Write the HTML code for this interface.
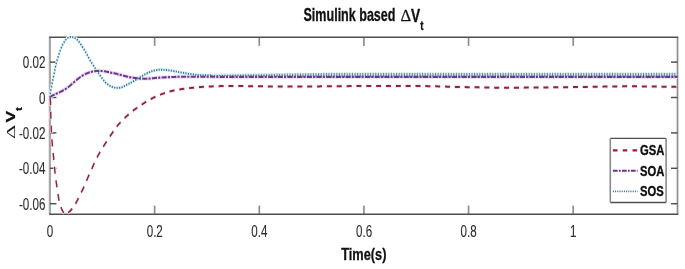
<!DOCTYPE html>
<html><head><meta charset="utf-8"><title>Simulink based ΔVt</title>
<style>
html,body{margin:0;padding:0;background:#fff;}
body{width:685px;height:269px;overflow:hidden;}
svg{display:block;filter:blur(0.35px);}
</style></head><body>
<svg width="685" height="269" viewBox="0 0 685 269">
<rect x="0" y="0" width="685" height="269" fill="#ffffff"/>
<g fill="none">
<line x1="49.9" y1="37.3" x2="49.9" y2="214.2" stroke="#a8a8a8" stroke-width="2.3"/>
<line x1="677.5" y1="37.3" x2="677.5" y2="214.2" stroke="#8e8e8e" stroke-width="1.7"/>
<line x1="154.64" y1="214.2" x2="154.64" y2="205.6" stroke="#8e8e8e" stroke-width="1.7"/>
<line x1="154.64" y1="37.3" x2="154.64" y2="45.9" stroke="#8e8e8e" stroke-width="1.7"/>
<line x1="259.28" y1="214.2" x2="259.28" y2="205.6" stroke="#8e8e8e" stroke-width="1.7"/>
<line x1="259.28" y1="37.3" x2="259.28" y2="45.9" stroke="#8e8e8e" stroke-width="1.7"/>
<line x1="363.92" y1="214.2" x2="363.92" y2="205.6" stroke="#8e8e8e" stroke-width="1.7"/>
<line x1="363.92" y1="37.3" x2="363.92" y2="45.9" stroke="#8e8e8e" stroke-width="1.7"/>
<line x1="468.56" y1="214.2" x2="468.56" y2="205.6" stroke="#8e8e8e" stroke-width="1.7"/>
<line x1="468.56" y1="37.3" x2="468.56" y2="45.9" stroke="#8e8e8e" stroke-width="1.7"/>
<line x1="573.20" y1="214.2" x2="573.20" y2="205.6" stroke="#8e8e8e" stroke-width="1.7"/>
<line x1="573.20" y1="37.3" x2="573.20" y2="45.9" stroke="#8e8e8e" stroke-width="1.7"/>
<line x1="49.1" y1="37.3" x2="678.3" y2="37.3" stroke="#4e4e4e" stroke-width="1.45"/>
<line x1="49.1" y1="214.2" x2="678.3" y2="214.2" stroke="#4e4e4e" stroke-width="1.45"/>
<line x1="49.9" y1="62.1" x2="56.4" y2="62.1" stroke="#4e4e4e" stroke-width="1.45"/>
<line x1="677.5" y1="62.1" x2="671.0" y2="62.1" stroke="#4e4e4e" stroke-width="1.45"/>
<line x1="49.9" y1="97.5" x2="56.4" y2="97.5" stroke="#4e4e4e" stroke-width="1.45"/>
<line x1="677.5" y1="97.5" x2="671.0" y2="97.5" stroke="#4e4e4e" stroke-width="1.45"/>
<line x1="49.9" y1="132.9" x2="56.4" y2="132.9" stroke="#4e4e4e" stroke-width="1.45"/>
<line x1="677.5" y1="132.9" x2="671.0" y2="132.9" stroke="#4e4e4e" stroke-width="1.45"/>
<line x1="49.9" y1="168.3" x2="56.4" y2="168.3" stroke="#4e4e4e" stroke-width="1.45"/>
<line x1="677.5" y1="168.3" x2="671.0" y2="168.3" stroke="#4e4e4e" stroke-width="1.45"/>
<line x1="49.9" y1="203.7" x2="56.4" y2="203.7" stroke="#4e4e4e" stroke-width="1.45"/>
<line x1="677.5" y1="203.7" x2="671.0" y2="203.7" stroke="#4e4e4e" stroke-width="1.45"/>
</g>
<defs><clipPath id="cp"><rect x="48.699999999999996" y="35.8" width="628.8000000000001" height="179.89999999999998"/></clipPath></defs>
<g clip-path="url(#cp)">
<g transform="translate(50.0,0) scale(0.712,1) translate(-50.0,0)" fill="none" stroke-linecap="butt" stroke-linejoin="round">
<path d="M50.00,97.50L50.13,98.16L50.25,98.82L50.37,99.49L50.47,100.15L50.55,100.81L50.59,101.47L50.64,102.14L50.68,102.80L50.71,103.47L50.74,104.13L50.77,104.80L50.80,105.47L50.83,106.13L50.85,106.80L50.87,107.47L50.89,108.13L50.91,108.80L50.93,109.47L50.95,110.13L50.97,110.80L50.99,111.47L51.01,112.14L51.03,112.80L51.05,113.47L51.07,114.14L51.10,114.80L51.13,115.47L51.16,116.14L51.18,116.80L51.21,117.47L51.24,118.13L51.27,118.80L51.30,119.47L51.33,120.13L51.36,120.80L51.39,121.47L51.42,122.13L51.45,122.80L51.48,123.46L51.52,124.13L51.55,124.80L51.59,125.46L51.62,126.13L51.66,126.79L51.69,127.46L51.73,128.13L51.77,128.79L51.81,129.46L51.85,130.12L51.90,130.79L51.94,131.46L51.99,132.12L52.04,132.79L52.08,133.45L52.14,134.12L52.19,134.78L52.24,135.45L52.30,136.12L52.36,136.78L52.42,137.45L52.49,138.11L52.56,138.78L52.63,139.44L52.70,140.10L52.78,140.77L52.85,141.43L52.93,142.10L53.01,142.76L53.09,143.43L53.17,144.09L53.25,144.75L53.34,145.42L53.42,146.08L53.50,146.75L53.59,147.41L53.68,148.07L53.77,148.74L53.86,149.40L53.96,150.06L54.06,150.73L54.16,151.39L54.25,152.05L54.35,152.71L54.45,153.38L54.55,154.04L54.65,154.70L54.74,155.37L54.84,156.03L54.93,156.69L55.02,157.36L55.10,158.02L55.19,158.68L55.27,159.35L55.36,160.01L55.44,160.68L55.52,161.34L55.61,162.00L55.69,162.67L55.77,163.33L55.86,164.00L55.94,164.66L56.03,165.32L56.11,165.99L56.20,166.65L56.29,167.31L56.39,167.98L56.48,168.64L56.58,169.30L56.67,169.97L56.77,170.63L56.87,171.29L56.97,171.96L57.07,172.62L57.17,173.28L57.27,173.94L57.38,174.61L57.49,175.27L57.60,175.93L57.71,176.59L57.82,177.25L57.94,177.91L58.06,178.58L58.19,179.24L58.32,179.90L58.45,180.56L58.59,181.22L58.72,181.88L58.86,182.54L58.99,183.20L59.12,183.85L59.26,184.51L59.39,185.17L59.53,185.83L59.66,186.49L59.80,187.15L59.94,187.81L60.07,188.47L60.21,189.13L60.35,189.79L60.49,190.45L60.62,191.11L60.75,191.77L60.88,192.43L61.00,193.09L61.13,193.75L61.26,194.42L61.40,195.08L61.54,195.73L61.68,196.39L61.84,197.05L62.00,197.70L62.17,198.36L62.36,199.01L62.55,199.66L62.75,200.32L62.96,200.97L63.18,201.62L63.41,202.27L63.65,202.91L63.90,203.56L64.16,204.20L64.42,204.84L64.70,205.47L64.98,206.10L65.27,206.74L65.58,207.38L65.90,208.03L66.23,208.67L66.59,209.30L66.97,209.91L67.38,210.51L67.81,211.08L68.28,211.62L68.82,212.20L69.44,212.83L70.12,213.42L70.84,213.89L71.57,214.17L72.29,214.17L73.07,213.96L73.87,213.60L74.68,213.15L75.48,212.66L76.24,212.18L76.95,211.76L77.65,211.32L78.33,210.86L79.00,210.39L79.66,209.90L80.30,209.40L80.92,208.90L81.52,208.38L82.10,207.86L82.65,207.33L83.19,206.80L83.70,206.25L84.20,205.69L84.68,205.12L85.16,204.54L85.62,203.95L86.07,203.36L86.52,202.77L86.96,202.18L87.40,201.59L87.85,201.00L88.29,200.41L88.72,199.82L89.15,199.23L89.58,198.63L89.99,198.04L90.41,197.44L90.82,196.84L91.23,196.24L91.64,195.64L92.05,195.04L92.46,194.44L92.88,193.84L93.29,193.25L93.71,192.65L94.12,192.05L94.54,191.45L94.95,190.86L95.36,190.26L95.77,189.66L96.18,189.06L96.58,188.46L96.98,187.85L97.38,187.25L97.76,186.64L98.15,186.04L98.53,185.43L98.90,184.82L99.27,184.20L99.64,183.59L100.01,182.98L100.37,182.36L100.73,181.75L101.10,181.13L101.46,180.52L101.82,179.90L102.18,179.29L102.54,178.67L102.91,178.06L103.27,177.45L103.64,176.83L104.02,176.22L104.39,175.61L104.77,175.00L105.16,174.40L105.55,173.79L105.95,173.19L106.35,172.58L106.75,171.98L107.15,171.38L107.55,170.77L107.94,170.17L108.33,169.56L108.70,168.95L109.08,168.34L109.44,167.73L109.81,167.11L110.17,166.50L110.53,165.88L110.90,165.27L111.27,164.66L111.64,164.05L112.03,163.44L112.41,162.83L112.80,162.23L113.20,161.62L113.59,161.02L113.99,160.41L114.40,159.81L114.81,159.21L115.22,158.61L115.64,158.02L116.07,157.43L116.50,156.84L116.95,156.25L117.40,155.67L117.85,155.08L118.31,154.50L118.77,153.92L119.24,153.34L119.71,152.77L120.18,152.19L120.65,151.61L121.12,151.04L121.61,150.47L122.09,149.90L122.58,149.33L123.06,148.76L123.55,148.19L124.05,147.62L124.54,147.06L125.03,146.49L125.52,145.92L126.01,145.35L126.50,144.79L127.00,144.22L127.49,143.65L127.99,143.09L128.48,142.52L128.98,141.96L129.48,141.40L129.99,140.83L130.50,140.28L131.01,139.72L131.53,139.16L132.05,138.61L132.58,138.06L133.10,137.51L133.63,136.96L134.16,136.41L134.70,135.86L135.23,135.31L135.76,134.76L136.29,134.21L136.82,133.66L137.35,133.11L137.88,132.56L138.40,132.01L138.92,131.45L139.44,130.89L139.96,130.34L140.48,129.79L141.02,129.24L141.56,128.69L142.11,128.16L142.67,127.63L143.24,127.10L143.82,126.58L144.41,126.06L145.01,125.55L145.61,125.04L146.22,124.53L146.84,124.03L147.46,123.53L148.09,123.03L148.72,122.54L149.35,122.05L149.99,121.56L150.63,121.07L151.27,120.59L151.92,120.11L152.58,119.64L153.24,119.17L153.91,118.70L154.59,118.24L155.27,117.78L155.95,117.32L156.63,116.86L157.32,116.41L158.00,115.96L158.69,115.50L159.38,115.05L160.07,114.60L160.77,114.15L161.47,113.71L162.17,113.27L162.88,112.83L163.59,112.40L164.31,111.97L165.04,111.55L165.77,111.14L166.51,110.74L167.27,110.34L168.03,109.95L168.79,109.57L169.56,109.18L170.33,108.80L171.09,108.42L171.86,108.03L172.63,107.65L173.40,107.27L174.17,106.90L174.94,106.52L175.71,106.14L176.49,105.77L177.26,105.40L178.04,105.02L178.82,104.65L179.60,104.28L180.38,103.91L181.16,103.54L181.94,103.17L182.72,102.81L183.51,102.45L184.30,102.09L185.10,101.75L185.90,101.40L186.70,101.06L187.51,100.72L188.32,100.39L189.14,100.05L189.95,99.73L190.77,99.40L191.59,99.08L192.42,98.77L193.25,98.46L194.08,98.15L194.92,97.86L195.76,97.57L196.60,97.28L197.44,96.99L198.29,96.71L199.14,96.43L200.00,96.16L200.86,95.88L201.72,95.61L202.58,95.35L203.44,95.09L204.31,94.84L205.18,94.59L206.05,94.34L206.93,94.10L207.80,93.87L208.68,93.65L209.56,93.43L210.44,93.21L211.33,93.00L212.22,92.79L213.11,92.58L214.00,92.38L214.90,92.18L215.80,91.98L216.70,91.79L217.60,91.60L218.50,91.42L219.41,91.25L220.32,91.08L221.22,90.92L222.13,90.77L223.04,90.62L223.95,90.48L224.87,90.35L225.78,90.22L226.70,90.09L227.62,89.97L228.55,89.85L229.47,89.74L230.39,89.63L231.32,89.52L232.25,89.41L233.17,89.31L234.10,89.21L235.03,89.11L235.95,89.02L236.88,88.92L237.81,88.83L238.73,88.73L239.66,88.64L240.59,88.55L241.52,88.47L242.45,88.38L243.38,88.30L244.30,88.22L245.23,88.14L246.17,88.06L247.10,87.98L248.03,87.91L248.96,87.84L249.89,87.77L250.82,87.70L251.75,87.64L252.68,87.57L253.61,87.51L254.55,87.44L255.48,87.38L256.41,87.32L257.34,87.26L258.28,87.21L259.21,87.15L260.14,87.10L261.08,87.05L262.01,87.00L262.94,86.95L263.88,86.91L264.81,86.87L265.75,86.82L266.68,86.78L267.62,86.75L268.55,86.71L269.49,86.67L270.42,86.64L271.36,86.60L272.29,86.57L273.23,86.54L274.16,86.51L275.10,86.48L276.03,86.45L276.97,86.42L277.90,86.40L278.84,86.37L279.77,86.35L280.71,86.32L281.65,86.29L282.58,86.27L283.52,86.24L284.45,86.22L285.39,86.19L286.32,86.17L287.26,86.15L288.20,86.14L289.13,86.12L290.07,86.11L291.00,86.10L291.94,86.10L292.88,86.10L293.81,86.10L294.75,86.10L295.68,86.10L296.62,86.10L297.56,86.10L298.49,86.10L299.43,86.10L300.37,86.10L301.30,86.10L302.24,86.10L303.17,86.10L304.11,86.10L305.05,86.10L305.98,86.10L306.92,86.10L307.86,86.10L308.79,86.10L309.73,86.10L310.66,86.10L311.60,86.10L312.54,86.10L313.47,86.10L314.41,86.10L315.35,86.10L316.28,86.10L317.22,86.10L318.15,86.10L319.09,86.10L320.03,86.10L320.96,86.11L321.90,86.11L322.83,86.11L323.77,86.12L324.71,86.12L325.64,86.13L326.58,86.13L327.52,86.14L328.45,86.14L329.39,86.15L330.32,86.16L331.26,86.17L332.20,86.17L333.13,86.18L334.07,86.19L335.00,86.20L335.94,86.21L336.88,86.22L337.81,86.23L338.75,86.24L339.69,86.25L340.62,86.26L341.56,86.27L342.49,86.28L343.43,86.29L344.37,86.30L345.30,86.31L346.24,86.32L347.17,86.33L348.11,86.35L349.05,86.36L349.98,86.37L350.92,86.38L351.86,86.39L352.79,86.40L353.73,86.41L354.66,86.42L355.60,86.43L356.54,86.44L357.47,86.45L358.41,86.46L359.34,86.47L360.28,86.48L361.22,86.49L362.15,86.50L363.09,86.51L364.02,86.52L364.96,86.53L365.90,86.54L366.83,86.54L367.77,86.55L368.71,86.56L369.64,86.56L370.58,86.57L371.51,86.58L372.45,86.58L373.39,86.58L374.32,86.59L375.26,86.59L376.19,86.59L377.13,86.60L378.07,86.60L379.00,86.60L379.94,86.60L380.88,86.60L381.81,86.60L382.75,86.60L383.68,86.60L384.62,86.60L385.56,86.60L386.49,86.59L387.43,86.59L388.36,86.59L389.30,86.59L390.24,86.59L391.17,86.58L392.11,86.58L393.05,86.58L393.98,86.58L394.92,86.57L395.85,86.57L396.79,86.57L397.73,86.56L398.66,86.56L399.60,86.55L400.54,86.55L401.47,86.55L402.41,86.54L403.34,86.54L404.28,86.53L405.22,86.53L406.15,86.52L407.09,86.52L408.02,86.51L408.96,86.51L409.90,86.50L410.83,86.50L411.77,86.49L412.71,86.48L413.64,86.48L414.58,86.47L415.51,86.47L416.45,86.46L417.39,86.46L418.32,86.45L419.26,86.44L420.19,86.44L421.13,86.43L422.07,86.42L423.00,86.42L423.94,86.41L424.88,86.40L425.81,86.40L426.75,86.39L427.68,86.38L428.62,86.38L429.56,86.37L430.49,86.36L431.43,86.36L432.37,86.35L433.30,86.34L434.24,86.34L435.17,86.33L436.11,86.32L437.05,86.32L437.98,86.31L438.92,86.30L439.85,86.30L440.79,86.29L441.73,86.28L442.66,86.28L443.60,86.27L444.54,86.26L445.47,86.26L446.41,86.25L447.34,86.25L448.28,86.24L449.22,86.23L450.15,86.23L451.09,86.22L452.03,86.22L452.96,86.21L453.90,86.20L454.83,86.20L455.77,86.19L456.71,86.19L457.64,86.18L458.58,86.18L459.51,86.17L460.45,86.17L461.39,86.16L462.32,86.16L463.26,86.15L464.20,86.15L465.13,86.14L466.07,86.14L467.00,86.14L467.94,86.13L468.88,86.13L469.81,86.12L470.75,86.12L471.69,86.12L472.62,86.11L473.56,86.11L474.49,86.11L475.43,86.11L476.37,86.10L477.30,86.10L478.24,86.10L479.17,86.10L480.11,86.10L481.05,86.09L481.98,86.09L482.92,86.09L483.86,86.09L484.79,86.09L485.73,86.09L486.66,86.08L487.60,86.08L488.54,86.08L489.47,86.08L490.41,86.08L491.35,86.08L492.28,86.07L493.22,86.07L494.15,86.07L495.09,86.07L496.03,86.07L496.96,86.07L497.90,86.06L498.84,86.06L499.77,86.06L500.71,86.06L501.64,86.06L502.58,86.06L503.52,86.06L504.45,86.05L505.39,86.05L506.33,86.05L507.26,86.05L508.20,86.05L509.13,86.05L510.07,86.04L511.01,86.04L511.94,86.04L512.88,86.04L513.82,86.04L514.75,86.04L515.69,86.04L516.62,86.04L517.56,86.03L518.50,86.03L519.43,86.03L520.37,86.03L521.31,86.03L522.24,86.03L523.18,86.03L524.11,86.03L525.05,86.02L525.99,86.02L526.92,86.02L527.86,86.02L528.79,86.02L529.73,86.02L530.67,86.02L531.60,86.02L532.54,86.02L533.48,86.02L534.41,86.01L535.35,86.01L536.28,86.01L537.22,86.01L538.16,86.01L539.09,86.01L540.03,86.01L540.97,86.01L541.90,86.01L542.84,86.01L543.77,86.01L544.71,86.01L545.65,86.01L546.58,86.00L547.52,86.00L548.45,86.00L549.39,86.00L550.33,86.00L551.26,86.00L552.20,86.00L553.14,86.00L554.07,86.00L555.01,86.00L555.94,86.00L556.88,86.00L557.82,86.00L558.75,86.00L559.69,86.00L560.62,86.00L561.56,86.00L562.50,86.00L563.43,86.00L564.37,86.00L565.31,86.00L566.24,86.01L567.18,86.01L568.11,86.01L569.05,86.02L569.99,86.02L570.92,86.03L571.86,86.04L572.79,86.05L573.73,86.06L574.67,86.06L575.60,86.07L576.54,86.08L577.47,86.10L578.41,86.11L579.35,86.12L580.28,86.13L581.22,86.14L582.15,86.16L583.09,86.17L584.03,86.19L584.96,86.20L585.90,86.22L586.83,86.23L587.77,86.25L588.71,86.27L589.64,86.28L590.58,86.30L591.51,86.32L592.45,86.33L593.38,86.35L594.32,86.37L595.26,86.39L596.19,86.41L597.13,86.43L598.06,86.45L599.00,86.46L599.94,86.48L600.87,86.50L601.81,86.52L602.74,86.54L603.68,86.56L604.62,86.58L605.55,86.60L606.49,86.62L607.42,86.64L608.36,86.66L609.30,86.68L610.23,86.70L611.17,86.72L612.10,86.74L613.04,86.76L613.98,86.78L614.91,86.80L615.85,86.81L616.78,86.83L617.72,86.85L618.66,86.87L619.59,86.89L620.53,86.90L621.46,86.92L622.40,86.94L623.34,86.95L624.27,86.97L625.21,86.99L626.14,87.00L627.08,87.02L628.02,87.03L628.95,87.05L629.89,87.06L630.82,87.07L631.76,87.09L632.70,87.10L633.63,87.11L634.57,87.12L635.50,87.13L636.44,87.15L637.38,87.16L638.31,87.17L639.25,87.18L640.18,87.20L641.12,87.21L642.06,87.22L642.99,87.24L643.93,87.25L644.86,87.26L645.80,87.28L646.74,87.29L647.67,87.30L648.61,87.32L649.54,87.33L650.48,87.34L651.42,87.36L652.35,87.37L653.29,87.38L654.22,87.40L655.16,87.41L656.10,87.42L657.03,87.44L657.97,87.45L658.91,87.46L659.84,87.47L660.78,87.49L661.71,87.50L662.65,87.51L663.59,87.52L664.52,87.53L665.46,87.54L666.39,87.55L667.33,87.57L668.27,87.58L669.20,87.59L670.14,87.60L671.07,87.60L672.01,87.61L672.95,87.62L673.88,87.63L674.82,87.64L675.76,87.65L676.69,87.65L677.63,87.66L678.56,87.67L679.50,87.67L680.44,87.68L681.37,87.68L682.31,87.69L683.24,87.69L684.18,87.69L685.12,87.69L686.05,87.70L686.99,87.70L687.92,87.70L688.86,87.70L689.80,87.70L690.73,87.70L691.67,87.70L692.61,87.70L693.54,87.70L694.48,87.70L695.41,87.70L696.35,87.69L697.29,87.69L698.22,87.69L699.16,87.69L700.10,87.69L701.03,87.68L701.97,87.68L702.90,87.68L703.84,87.68L704.78,87.67L705.71,87.67L706.65,87.67L707.58,87.66L708.52,87.66L709.46,87.66L710.39,87.65L711.33,87.65L712.27,87.64L713.20,87.64L714.14,87.63L715.07,87.63L716.01,87.63L716.95,87.62L717.88,87.62L718.82,87.61L719.76,87.61L720.69,87.60L721.63,87.60L722.56,87.59L723.50,87.58L724.44,87.58L725.37,87.57L726.31,87.57L727.24,87.56L728.18,87.56L729.12,87.55L730.05,87.55L730.99,87.54L731.93,87.53L732.86,87.53L733.80,87.52L734.73,87.52L735.67,87.51L736.61,87.50L737.54,87.50L738.48,87.49L739.42,87.48L740.35,87.48L741.29,87.47L742.22,87.47L743.16,87.46L744.10,87.45L745.03,87.45L745.97,87.44L746.90,87.43L747.84,87.43L748.78,87.42L749.71,87.42L750.65,87.41L751.59,87.40L752.52,87.40L753.46,87.39L754.39,87.39L755.33,87.38L756.27,87.37L757.20,87.37L758.14,87.36L759.07,87.35L760.01,87.34L760.95,87.34L761.88,87.33L762.82,87.32L763.76,87.31L764.69,87.31L765.63,87.30L766.56,87.29L767.50,87.28L768.44,87.27L769.37,87.26L770.31,87.26L771.24,87.25L772.18,87.24L773.12,87.23L774.05,87.22L774.99,87.21L775.92,87.20L776.86,87.19L777.80,87.18L778.73,87.17L779.67,87.16L780.61,87.15L781.54,87.14L782.48,87.13L783.41,87.12L784.35,87.11L785.29,87.10L786.22,87.09L787.16,87.08L788.09,87.07L789.03,87.06L789.97,87.05L790.90,87.04L791.84,87.03L792.77,87.02L793.71,87.01L794.65,87.00L795.58,86.99L796.52,86.98L797.46,86.96L798.39,86.95L799.33,86.94L800.26,86.93L801.20,86.92L802.14,86.91L803.07,86.90L804.01,86.89L804.94,86.88L805.88,86.87L806.82,86.86L807.75,86.84L808.69,86.83L809.62,86.82L810.56,86.81L811.50,86.80L812.43,86.79L813.37,86.78L814.30,86.77L815.24,86.76L816.18,86.75L817.11,86.74L818.05,86.73L818.99,86.72L819.92,86.70L820.86,86.69L821.79,86.68L822.73,86.67L823.67,86.66L824.60,86.65L825.54,86.64L826.47,86.63L827.41,86.62L828.35,86.61L829.28,86.60L830.22,86.59L831.15,86.58L832.09,86.57L833.03,86.56L833.96,86.55L834.90,86.53L835.83,86.52L836.77,86.51L837.71,86.49L838.64,86.48L839.58,86.47L840.52,86.45L841.45,86.44L842.39,86.43L843.32,86.42L844.26,86.40L845.20,86.39L846.13,86.38L847.07,86.37L848.00,86.36L848.94,86.35L849.88,86.34L850.81,86.33L851.75,86.32L852.68,86.32L853.62,86.31L854.56,86.31L855.49,86.30L856.43,86.30L857.37,86.30L858.30,86.30L859.24,86.30L860.17,86.30L861.11,86.30L862.05,86.31L862.98,86.31L863.92,86.31L864.85,86.31L865.79,86.32L866.73,86.32L867.66,86.32L868.60,86.33L869.54,86.33L870.47,86.34L871.41,86.34L872.34,86.35L873.28,86.36L874.22,86.36L875.15,86.37L876.09,86.37L877.02,86.38L877.96,86.39L878.90,86.39L879.83,86.40L880.77,86.41L881.71,86.42L882.64,86.42L883.58,86.43L884.51,86.44L885.45,86.44L886.39,86.45L887.32,86.46L888.26,86.47L889.20,86.47L890.13,86.48L891.07,86.49L892.00,86.49L892.94,86.50L893.88,86.51L894.81,86.52L895.75,86.52L896.68,86.53L897.62,86.54L898.56,86.55L899.49,86.55L900.43,86.56L901.37,86.57L902.30,86.58L903.24,86.59L904.17,86.60L905.11,86.60L906.05,86.61L906.98,86.62L907.92,86.63L908.85,86.64L909.79,86.65L910.73,86.66L911.66,86.67L912.60,86.68L913.53,86.69L914.47,86.70L915.41,86.71L916.34,86.72L917.28,86.73L918.22,86.74L919.15,86.75L920.09,86.76L921.02,86.77L921.96,86.78L922.90,86.80L923.83,86.81L924.77,86.82L925.70,86.83L926.64,86.84L927.58,86.85L928.51,86.86L929.45,86.88L930.38,86.89L931.32,86.90" stroke="#f8e6eb" stroke-width="3.8" stroke-dasharray="7.9 5.925" stroke-dashoffset="-0.05"/>
<path d="M50.00,97.50L50.60,96.97L51.26,96.52L51.99,96.15L52.78,95.81L53.61,95.49L54.47,95.19L55.33,94.91L56.20,94.63L57.06,94.34L57.90,94.05L58.74,93.77L59.60,93.49L60.45,93.22L61.31,92.95L62.17,92.68L63.02,92.40L63.86,92.12L64.70,91.82L65.54,91.52L66.37,91.22L67.21,90.92L68.04,90.60L68.86,90.28L69.67,89.95L70.47,89.62L71.26,89.27L72.04,88.91L72.82,88.53L73.59,88.15L74.36,87.77L75.11,87.37L75.86,86.97L76.60,86.56L77.34,86.15L78.05,85.72L78.76,85.28L79.45,84.84L80.15,84.39L80.86,83.95L81.56,83.52L82.27,83.08L82.97,82.64L83.67,82.19L84.38,81.76L85.08,81.32L85.79,80.88L86.51,80.45L87.23,80.03L87.95,79.61L88.69,79.20L89.43,78.79L90.17,78.39L90.92,77.98L91.67,77.58L92.42,77.18L93.19,76.79L93.95,76.41L94.73,76.03L95.52,75.67L96.31,75.32L97.11,74.99L97.93,74.67L98.77,74.38L99.62,74.09L100.48,73.83L101.34,73.56L102.20,73.30L103.07,73.05L103.94,72.81L104.82,72.58L105.71,72.36L106.60,72.17L107.50,71.99L108.40,71.80L109.31,71.63L110.22,71.48L111.14,71.34L112.06,71.24L112.99,71.16L113.91,71.09L114.85,71.03L115.78,70.97L116.72,70.93L117.66,70.91L118.59,70.90L119.53,70.91L120.46,70.93L121.40,70.96L122.33,71.00L123.27,71.04L124.20,71.09L125.13,71.14L126.05,71.23L126.98,71.33L127.90,71.45L128.82,71.58L129.74,71.72L130.66,71.85L131.57,71.99L132.48,72.15L133.39,72.31L134.30,72.47L135.21,72.63L136.12,72.77L137.04,72.88L137.97,72.98L138.90,73.08L139.82,73.19L140.73,73.33L141.64,73.48L142.54,73.65L143.45,73.83L144.35,74.01L145.25,74.18L146.16,74.35L147.06,74.52L147.97,74.69L148.87,74.86L149.78,75.03L150.68,75.20L151.59,75.36L152.49,75.53L153.40,75.70L154.31,75.87L155.21,76.03L156.12,76.19L157.03,76.35L157.94,76.50L158.85,76.66L159.76,76.81L160.68,76.95L161.59,77.09L162.51,77.22L163.43,77.35L164.35,77.47L165.27,77.58L166.19,77.69L167.11,77.80L168.04,77.90L168.97,77.99L169.89,78.08L170.82,78.17L171.75,78.25L172.68,78.31L173.61,78.38L174.54,78.44L175.48,78.49L176.41,78.54L177.34,78.58L178.28,78.61L179.21,78.63L180.15,78.66L181.08,78.68L182.02,78.69L182.96,78.70L183.89,78.70L184.83,78.69L185.76,78.68L186.70,78.66L187.63,78.64L188.57,78.61L189.50,78.59L190.43,78.54L191.36,78.49L192.30,78.42L193.23,78.35L194.16,78.27L195.09,78.19L196.02,78.11L196.95,78.03L197.88,77.96L198.81,77.90L199.74,77.85L200.67,77.81L201.61,77.76L202.54,77.71L203.48,77.67L204.41,77.63L205.34,77.59L206.28,77.55L207.21,77.51L208.15,77.48L209.08,77.44L210.01,77.40L210.95,77.37L211.88,77.33L212.82,77.30L213.75,77.26L214.69,77.23L215.62,77.20L216.55,77.16L217.49,77.14L218.42,77.11L219.36,77.08L220.29,77.06L221.23,77.03L222.16,77.01L223.10,76.99L224.03,76.97L224.97,76.95L225.90,76.92L226.84,76.91L227.77,76.89L228.71,76.86L229.64,76.84L230.58,76.82L231.52,76.80L232.45,76.78L233.39,76.76L234.32,76.74L235.26,76.72L236.19,76.71L237.13,76.70L238.06,76.70L239.00,76.70L239.93,76.70L240.87,76.70L241.80,76.70L242.74,76.70L243.68,76.70L244.61,76.70L245.55,76.70L246.48,76.70L247.42,76.70L248.35,76.70L249.29,76.70L250.23,76.70L251.16,76.70L252.10,76.70L253.03,76.70L253.97,76.70L254.90,76.70L255.84,76.70L256.77,76.70L257.71,76.71L258.65,76.71L259.58,76.72L260.52,76.72L261.45,76.73L262.39,76.73L263.32,76.74L264.26,76.74L265.19,76.75L266.13,76.76L267.07,76.76L268.00,76.77L268.94,76.77L269.87,76.78L270.81,76.78L271.74,76.79L272.68,76.79L273.61,76.80L274.55,76.80L275.49,76.80L276.42,76.80L277.36,76.81L278.29,76.81L279.23,76.81L280.16,76.81L281.10,76.82L282.03,76.82L282.97,76.82L283.91,76.83L284.84,76.83L285.78,76.83L286.71,76.83L287.65,76.83L288.58,76.84L289.52,76.84L290.45,76.84L291.39,76.84L292.33,76.85L293.26,76.85L294.20,76.85L295.13,76.85L296.07,76.86L297.00,76.86L297.94,76.86L298.87,76.86L299.81,76.86L300.75,76.87L301.68,76.87L302.62,76.87L303.55,76.87L304.49,76.87L305.42,76.87L306.36,76.88L307.29,76.88L308.23,76.88L309.17,76.88L310.10,76.88L311.04,76.88L311.97,76.89L312.91,76.89L313.84,76.89L314.78,76.89L315.71,76.89L316.65,76.89L317.59,76.89L318.52,76.89L319.46,76.89L320.39,76.90L321.33,76.90L322.26,76.90L323.20,76.90L324.13,76.90L325.07,76.90L326.01,76.90L326.94,76.90L327.88,76.90L328.81,76.90L329.75,76.90L330.68,76.90L331.62,76.90L332.55,76.90L333.49,76.90L334.43,76.90L335.36,76.90L336.30,76.90L337.23,76.90L338.17,76.90L339.10,76.90L340.04,76.90L340.97,76.90L341.91,76.90L342.85,76.90L343.78,76.90L344.72,76.90L345.65,76.90L346.59,76.90L347.52,76.90L348.46,76.90L349.39,76.90L350.33,76.90L351.27,76.90L352.20,76.90L353.14,76.90L354.07,76.90L355.01,76.90L355.94,76.90L356.88,76.90L357.82,76.90L358.75,76.90L359.69,76.90L360.62,76.90L361.56,76.90L362.49,76.90L363.43,76.90L364.36,76.90L365.30,76.90L366.24,76.90L367.17,76.90L368.11,76.90L369.04,76.90L369.98,76.90L370.91,76.90L371.85,76.90L372.78,76.90L373.72,76.90L374.66,76.90L375.59,76.90L376.53,76.90L377.46,76.90L378.40,76.90L379.33,76.90L380.27,76.90L381.20,76.90L382.14,76.90L383.08,76.90L384.01,76.90L384.95,76.90L385.88,76.90L386.82,76.90L387.75,76.90L388.69,76.90L389.62,76.90L390.56,76.90L391.50,76.90L392.43,76.90L393.37,76.90L394.30,76.90L395.24,76.90L396.17,76.90L397.11,76.90L398.04,76.90L398.98,76.90L399.92,76.90L400.85,76.90L401.79,76.90L402.72,76.90L403.66,76.90L404.59,76.90L405.53,76.90L406.46,76.90L407.40,76.90L408.34,76.90L409.27,76.90L410.21,76.90L411.14,76.90L412.08,76.90L413.01,76.90L413.95,76.90L414.88,76.90L415.82,76.90L416.76,76.90L417.69,76.90L418.63,76.90L419.56,76.90L420.50,76.90L421.43,76.90L422.37,76.90L423.31,76.90L424.24,76.90L425.18,76.90L426.11,76.90L427.05,76.90L427.98,76.90L428.92,76.90L429.85,76.90L430.79,76.90L431.73,76.90L432.66,76.90L433.60,76.90L434.53,76.90L435.47,76.90L436.40,76.90L437.34,76.90L438.27,76.90L439.21,76.90L440.15,76.90L441.08,76.90L442.02,76.90L442.95,76.90L443.89,76.90L444.82,76.90L445.76,76.90L446.69,76.90L447.63,76.90L448.57,76.90L449.50,76.90L450.44,76.90L451.37,76.90L452.31,76.90L453.24,76.90L454.18,76.90L455.11,76.90L456.05,76.90L456.99,76.90L457.92,76.90L458.86,76.90L459.79,76.90L460.73,76.90L461.66,76.90L462.60,76.90L463.53,76.90L464.47,76.90L465.41,76.90L466.34,76.90L467.28,76.90L468.21,76.90L469.15,76.90L470.08,76.90L471.02,76.90L471.95,76.90L472.89,76.90L473.83,76.90L474.76,76.90L475.70,76.90L476.63,76.90L477.57,76.90L478.50,76.90L479.44,76.90L480.37,76.90L481.31,76.90L482.25,76.90L483.18,76.90L484.12,76.90L485.05,76.90L485.99,76.90L486.92,76.90L487.86,76.90L488.80,76.90L489.73,76.90L490.67,76.90L491.60,76.90L492.54,76.90L493.47,76.90L494.41,76.90L495.34,76.90L496.28,76.90L497.22,76.90L498.15,76.90L499.09,76.90L500.02,76.90L500.96,76.90L501.89,76.90L502.83,76.90L503.76,76.90L504.70,76.90L505.64,76.90L506.57,76.90L507.51,76.90L508.44,76.90L509.38,76.90L510.31,76.90L511.25,76.90L512.18,76.90L513.12,76.90L514.06,76.90L514.99,76.90L515.93,76.90L516.86,76.90L517.80,76.90L518.73,76.90L519.67,76.90L520.60,76.90L521.54,76.90L522.48,76.90L523.41,76.90L524.35,76.90L525.28,76.90L526.22,76.90L527.15,76.90L528.09,76.90L529.02,76.90L529.96,76.90L530.90,76.90L531.83,76.90L532.77,76.90L533.70,76.90L534.64,76.90L535.57,76.90L536.51,76.90L537.44,76.90L538.38,76.90L539.32,76.90L540.25,76.90L541.19,76.90L542.12,76.90L543.06,76.90L543.99,76.90L544.93,76.90L545.86,76.90L546.80,76.90L547.74,76.90L548.67,76.90L549.61,76.90L550.54,76.90L551.48,76.90L552.41,76.90L553.35,76.90L554.29,76.90L555.22,76.90L556.16,76.90L557.09,76.90L558.03,76.90L558.96,76.90L559.90,76.90L560.83,76.90L561.77,76.90L562.71,76.90L563.64,76.90L564.58,76.90L565.51,76.90L566.45,76.90L567.38,76.90L568.32,76.90L569.25,76.90L570.19,76.90L571.13,76.90L572.06,76.90L573.00,76.90L573.93,76.90L574.87,76.90L575.80,76.90L576.74,76.90L577.67,76.90L578.61,76.90L579.55,76.90L580.48,76.90L581.42,76.90L582.35,76.90L583.29,76.90L584.22,76.90L585.16,76.90L586.09,76.90L587.03,76.90L587.97,76.90L588.90,76.90L589.84,76.90L590.77,76.90L591.71,76.90L592.64,76.90L593.58,76.90L594.51,76.90L595.45,76.90L596.39,76.90L597.32,76.90L598.26,76.90L599.19,76.90L600.13,76.90L601.06,76.90L602.00,76.90L602.93,76.90L603.87,76.90L604.81,76.90L605.74,76.90L606.68,76.90L607.61,76.90L608.55,76.90L609.48,76.90L610.42,76.90L611.35,76.90L612.29,76.90L613.23,76.90L614.16,76.90L615.10,76.90L616.03,76.90L616.97,76.90L617.90,76.90L618.84,76.90L619.78,76.90L620.71,76.90L621.65,76.90L622.58,76.90L623.52,76.90L624.45,76.90L625.39,76.90L626.32,76.90L627.26,76.90L628.20,76.90L629.13,76.90L630.07,76.90L631.00,76.90L631.94,76.90L632.87,76.90L633.81,76.90L634.74,76.90L635.68,76.90L636.62,76.90L637.55,76.90L638.49,76.90L639.42,76.90L640.36,76.90L641.29,76.90L642.23,76.90L643.16,76.90L644.10,76.90L645.04,76.90L645.97,76.90L646.91,76.90L647.84,76.90L648.78,76.90L649.71,76.90L650.65,76.90L651.58,76.90L652.52,76.90L653.46,76.90L654.39,76.90L655.33,76.90L656.26,76.90L657.20,76.90L658.13,76.90L659.07,76.90L660.00,76.90L660.94,76.90L661.88,76.90L662.81,76.90L663.75,76.90L664.68,76.90L665.62,76.90L666.55,76.90L667.49,76.90L668.42,76.90L669.36,76.90L670.30,76.90L671.23,76.90L672.17,76.90L673.10,76.90L674.04,76.90L674.97,76.90L675.91,76.90L676.84,76.90L677.78,76.90L678.72,76.90L679.65,76.90L680.59,76.90L681.52,76.90L682.46,76.90L683.39,76.90L684.33,76.90L685.27,76.90L686.20,76.90L687.14,76.90L688.07,76.90L689.01,76.90L689.94,76.90L690.88,76.90L691.81,76.90L692.75,76.90L693.69,76.90L694.62,76.90L695.56,76.90L696.49,76.90L697.43,76.90L698.36,76.90L699.30,76.90L700.23,76.90L701.17,76.90L702.11,76.90L703.04,76.90L703.98,76.90L704.91,76.90L705.85,76.90L706.78,76.90L707.72,76.90L708.65,76.90L709.59,76.90L710.53,76.90L711.46,76.90L712.40,76.90L713.33,76.90L714.27,76.90L715.20,76.90L716.14,76.90L717.07,76.90L718.01,76.90L718.95,76.90L719.88,76.90L720.82,76.90L721.75,76.90L722.69,76.90L723.62,76.90L724.56,76.90L725.49,76.90L726.43,76.90L727.37,76.90L728.30,76.90L729.24,76.90L730.17,76.90L731.11,76.90L732.04,76.90L732.98,76.90L733.91,76.90L734.85,76.90L735.79,76.90L736.72,76.90L737.66,76.90L738.59,76.90L739.53,76.90L740.46,76.90L741.40,76.90L742.33,76.90L743.27,76.90L744.21,76.90L745.14,76.90L746.08,76.90L747.01,76.90L747.95,76.90L748.88,76.90L749.82,76.90L750.75,76.90L751.69,76.90L752.63,76.90L753.56,76.90L754.50,76.90L755.43,76.90L756.37,76.90L757.30,76.90L758.24,76.90L759.18,76.90L760.11,76.90L761.05,76.90L761.98,76.90L762.92,76.90L763.85,76.90L764.79,76.90L765.72,76.90L766.66,76.90L767.60,76.90L768.53,76.90L769.47,76.90L770.40,76.90L771.34,76.90L772.27,76.90L773.21,76.90L774.14,76.90L775.08,76.90L776.02,76.90L776.95,76.90L777.89,76.90L778.82,76.90L779.76,76.90L780.69,76.90L781.63,76.90L782.56,76.90L783.50,76.90L784.44,76.90L785.37,76.90L786.31,76.90L787.24,76.90L788.18,76.90L789.11,76.90L790.05,76.90L790.98,76.90L791.92,76.90L792.86,76.90L793.79,76.90L794.73,76.90L795.66,76.90L796.60,76.90L797.53,76.90L798.47,76.90L799.40,76.90L800.34,76.90L801.28,76.90L802.21,76.90L803.15,76.90L804.08,76.90L805.02,76.90L805.95,76.90L806.89,76.90L807.82,76.90L808.76,76.90L809.70,76.90L810.63,76.90L811.57,76.90L812.50,76.90L813.44,76.90L814.37,76.90L815.31,76.90L816.24,76.90L817.18,76.90L818.12,76.90L819.05,76.90L819.99,76.90L820.92,76.90L821.86,76.90L822.79,76.90L823.73,76.90L824.67,76.90L825.60,76.90L826.54,76.90L827.47,76.90L828.41,76.90L829.34,76.90L830.28,76.90L831.21,76.90L832.15,76.90L833.09,76.90L834.02,76.90L834.96,76.90L835.89,76.90L836.83,76.90L837.76,76.90L838.70,76.90L839.63,76.90L840.57,76.90L841.51,76.90L842.44,76.90L843.38,76.90L844.31,76.90L845.25,76.90L846.18,76.90L847.12,76.90L848.05,76.90L848.99,76.90L849.93,76.90L850.86,76.90L851.80,76.90L852.73,76.90L853.67,76.90L854.60,76.90L855.54,76.90L856.47,76.90L857.41,76.90L858.35,76.90L859.28,76.90L860.22,76.90L861.15,76.90L862.09,76.90L863.02,76.90L863.96,76.90L864.89,76.90L865.83,76.90L866.77,76.90L867.70,76.90L868.64,76.90L869.57,76.90L870.51,76.90L871.44,76.90L872.38,76.90L873.31,76.90L874.25,76.90L875.19,76.90L876.12,76.90L877.06,76.90L877.99,76.90L878.93,76.90L879.86,76.90L880.80,76.90L881.73,76.90L882.67,76.90L883.61,76.90L884.54,76.90L885.48,76.90L886.41,76.90L887.35,76.90L888.28,76.90L889.22,76.90L890.16,76.90L891.09,76.90L892.03,76.90L892.96,76.90L893.90,76.90L894.83,76.90L895.77,76.90L896.70,76.90L897.64,76.90L898.58,76.90L899.51,76.90L900.45,76.90L901.38,76.90L902.32,76.90L903.25,76.90L904.19,76.90L905.12,76.90L906.06,76.90L907.00,76.90L907.93,76.90L908.87,76.90L909.80,76.90L910.74,76.90L911.67,76.90L912.61,76.90L913.54,76.90L914.48,76.90L915.42,76.90L916.35,76.90L917.29,76.90L918.22,76.90L919.16,76.90L920.09,76.90L921.03,76.90L921.96,76.90L922.90,76.90L923.84,76.90L924.77,76.90L925.71,76.90L926.64,76.90L927.58,76.90L928.51,76.90L929.45,76.90L930.38,76.90L931.32,76.90" stroke="#eee2f3" stroke-width="4.2"/>
<path d="M50.00,97.50L50.03,96.83L50.09,96.17L50.15,95.50L50.23,94.84L50.33,94.17L50.43,93.51L50.54,92.85L50.66,92.20L50.78,91.54L50.91,90.88L51.07,90.23L51.27,89.58L51.48,88.93L51.71,88.29L51.93,87.64L52.13,86.99L52.32,86.34L52.49,85.68L52.66,85.03L52.82,84.37L52.98,83.72L53.14,83.06L53.30,82.41L53.47,81.75L53.65,81.10L53.82,80.45L54.01,79.80L54.19,79.15L54.38,78.49L54.57,77.84L54.75,77.19L54.95,76.54L55.14,75.89L55.34,75.24L55.53,74.59L55.73,73.94L55.92,73.29L56.11,72.64L56.30,71.99L56.47,71.33L56.65,70.68L56.81,70.02L56.98,69.37L57.14,68.72L57.31,68.06L57.49,67.41L57.68,66.76L57.87,66.11L58.08,65.46L58.29,64.81L58.51,64.16L58.73,63.52L58.96,62.87L59.19,62.23L59.43,61.59L59.68,60.94L59.93,60.30L60.19,59.67L60.46,59.03L60.74,58.40L61.02,57.76L61.31,57.13L61.61,56.50L61.91,55.87L62.20,55.24L62.50,54.61L62.79,53.97L63.08,53.34L63.37,52.71L63.66,52.07L63.95,51.44L64.25,50.81L64.56,50.19L64.89,49.57L65.22,48.95L65.56,48.33L65.92,47.71L66.28,47.09L66.65,46.48L67.04,45.87L67.43,45.27L67.84,44.67L68.26,44.08L68.70,43.50L69.15,42.91L69.62,42.33L70.11,41.76L70.63,41.20L71.16,40.66L71.73,40.14L72.32,39.62L72.95,39.09L73.62,38.59L74.33,38.15L75.08,37.82L75.90,37.56L76.79,37.33L77.72,37.14L78.66,37.02L79.58,37.00L80.52,37.05L81.47,37.13L82.40,37.25L83.30,37.38L84.16,37.57L84.99,37.88L85.80,38.26L86.56,38.67L87.27,39.08L87.95,39.52L88.59,40.00L89.22,40.51L89.82,41.03L90.41,41.56L90.99,42.08L91.56,42.61L92.11,43.14L92.65,43.68L93.18,44.23L93.70,44.79L94.21,45.35L94.72,45.91L95.23,46.46L95.74,47.02L96.25,47.58L96.75,48.14L97.25,48.70L97.75,49.26L98.24,49.83L98.72,50.40L99.19,50.97L99.66,51.55L100.11,52.13L100.56,52.71L101.01,53.30L101.45,53.88L101.90,54.46L102.35,55.05L102.80,55.63L103.24,56.22L103.69,56.80L104.13,57.39L104.58,57.97L105.04,58.55L105.50,59.13L105.96,59.70L106.43,60.28L106.90,60.86L107.37,61.43L107.85,62.00L108.33,62.57L108.81,63.14L109.30,63.71L109.79,64.27L110.29,64.83L110.79,65.39L111.30,65.95L111.82,66.51L112.33,67.06L112.85,67.62L113.36,68.17L113.88,68.73L114.39,69.28L114.91,69.84L115.42,70.39L115.94,70.94L116.46,71.49L116.98,72.05L117.51,72.60L118.03,73.15L118.55,73.70L119.08,74.25L119.60,74.80L120.13,75.35L120.67,75.89L121.21,76.43L121.76,76.97L122.32,77.50L122.88,78.04L123.45,78.57L124.02,79.09L124.61,79.61L125.20,80.12L125.81,80.62L126.43,81.12L127.06,81.62L127.70,82.12L128.35,82.60L129.02,83.06L129.70,83.51L130.40,83.94L131.13,84.35L131.88,84.75L132.64,85.14L133.43,85.52L134.24,85.86L135.05,86.18L135.88,86.47L136.73,86.75L137.60,87.02L138.49,87.25L139.39,87.43L140.29,87.55L141.21,87.65L142.14,87.74L143.07,87.81L144.01,87.87L144.95,87.90L145.87,87.89L146.81,87.84L147.75,87.75L148.68,87.63L149.59,87.49L150.49,87.34L151.37,87.16L152.22,86.92L153.06,86.63L153.89,86.30L154.72,85.97L155.55,85.64L156.38,85.33L157.21,85.03L158.05,84.73L158.88,84.43L159.71,84.12L160.54,83.82L161.37,83.51L162.19,83.20L163.02,82.89L163.85,82.58L164.67,82.27L165.49,81.95L166.31,81.63L167.12,81.30L167.93,80.97L168.73,80.63L169.53,80.29L170.33,79.94L171.12,79.59L171.92,79.24L172.72,78.89L173.51,78.55L174.31,78.20L175.10,77.85L175.89,77.50L176.69,77.15L177.49,76.80L178.28,76.46L179.08,76.11L179.88,75.76L180.68,75.42L181.48,75.08L182.29,74.75L183.11,74.42L183.93,74.11L184.76,73.81L185.60,73.52L186.44,73.23L187.29,72.94L188.14,72.67L188.99,72.39L189.83,72.10L190.69,71.82L191.54,71.55L192.41,71.30L193.29,71.09L194.18,70.91L195.08,70.74L195.99,70.58L196.91,70.44L197.83,70.32L198.75,70.21L199.67,70.12L200.60,70.03L201.53,69.94L202.46,69.87L203.39,69.82L204.33,69.80L205.26,69.80L206.19,69.81L207.13,69.81L208.06,69.82L209.00,69.83L209.93,69.85L210.86,69.87L211.79,69.91L212.73,69.96L213.66,70.03L214.59,70.10L215.51,70.17L216.44,70.25L217.37,70.33L218.29,70.43L219.21,70.53L220.14,70.64L221.06,70.75L221.98,70.86L222.90,70.97L223.82,71.08L224.74,71.19L225.66,71.31L226.58,71.43L227.50,71.55L228.41,71.68L229.33,71.81L230.24,71.95L231.16,72.08L232.07,72.21L232.99,72.34L233.91,72.45L234.83,72.57L235.75,72.68L236.67,72.79L237.59,72.91L238.51,73.02L239.43,73.14L240.35,73.26L241.27,73.38L242.19,73.50L243.11,73.61L244.03,73.72L244.95,73.83L245.87,73.93L246.80,74.03L247.72,74.13L248.65,74.22L249.57,74.31L250.50,74.40L251.42,74.49L252.35,74.58L253.27,74.66L254.20,74.74L255.13,74.80L256.06,74.87L256.99,74.93L257.92,74.98L258.85,75.03L259.79,75.07L260.72,75.10L261.65,75.12L262.59,75.14L263.52,75.16L264.45,75.17L265.39,75.19L266.32,75.19L267.26,75.20L268.19,75.20L269.12,75.20L270.06,75.20L270.99,75.20L271.92,75.20L272.86,75.20L273.79,75.20L274.73,75.20L275.66,75.20L276.59,75.20L277.53,75.20" stroke="#dcf1f7" stroke-width="3.6"/>
<path d="M50.00,97.50L50.13,98.16L50.25,98.82L50.37,99.49L50.47,100.15L50.55,100.81L50.59,101.47L50.64,102.14L50.68,102.80L50.71,103.47L50.74,104.13L50.77,104.80L50.80,105.47L50.83,106.13L50.85,106.80L50.87,107.47L50.89,108.13L50.91,108.80L50.93,109.47L50.95,110.13L50.97,110.80L50.99,111.47L51.01,112.14L51.03,112.80L51.05,113.47L51.07,114.14L51.10,114.80L51.13,115.47L51.16,116.14L51.18,116.80L51.21,117.47L51.24,118.13L51.27,118.80L51.30,119.47L51.33,120.13L51.36,120.80L51.39,121.47L51.42,122.13L51.45,122.80L51.48,123.46L51.52,124.13L51.55,124.80L51.59,125.46L51.62,126.13L51.66,126.79L51.69,127.46L51.73,128.13L51.77,128.79L51.81,129.46L51.85,130.12L51.90,130.79L51.94,131.46L51.99,132.12L52.04,132.79L52.08,133.45L52.14,134.12L52.19,134.78L52.24,135.45L52.30,136.12L52.36,136.78L52.42,137.45L52.49,138.11L52.56,138.78L52.63,139.44L52.70,140.10L52.78,140.77L52.85,141.43L52.93,142.10L53.01,142.76L53.09,143.43L53.17,144.09L53.25,144.75L53.34,145.42L53.42,146.08L53.50,146.75L53.59,147.41L53.68,148.07L53.77,148.74L53.86,149.40L53.96,150.06L54.06,150.73L54.16,151.39L54.25,152.05L54.35,152.71L54.45,153.38L54.55,154.04L54.65,154.70L54.74,155.37L54.84,156.03L54.93,156.69L55.02,157.36L55.10,158.02L55.19,158.68L55.27,159.35L55.36,160.01L55.44,160.68L55.52,161.34L55.61,162.00L55.69,162.67L55.77,163.33L55.86,164.00L55.94,164.66L56.03,165.32L56.11,165.99L56.20,166.65L56.29,167.31L56.39,167.98L56.48,168.64L56.58,169.30L56.67,169.97L56.77,170.63L56.87,171.29L56.97,171.96L57.07,172.62L57.17,173.28L57.27,173.94L57.38,174.61L57.49,175.27L57.60,175.93L57.71,176.59L57.82,177.25L57.94,177.91L58.06,178.58L58.19,179.24L58.32,179.90L58.45,180.56L58.59,181.22L58.72,181.88L58.86,182.54L58.99,183.20L59.12,183.85L59.26,184.51L59.39,185.17L59.53,185.83L59.66,186.49L59.80,187.15L59.94,187.81L60.07,188.47L60.21,189.13L60.35,189.79L60.49,190.45L60.62,191.11L60.75,191.77L60.88,192.43L61.00,193.09L61.13,193.75L61.26,194.42L61.40,195.08L61.54,195.73L61.68,196.39L61.84,197.05L62.00,197.70L62.17,198.36L62.36,199.01L62.55,199.66L62.75,200.32L62.96,200.97L63.18,201.62L63.41,202.27L63.65,202.91L63.90,203.56L64.16,204.20L64.42,204.84L64.70,205.47L64.98,206.10L65.27,206.74L65.58,207.38L65.90,208.03L66.23,208.67L66.59,209.30L66.97,209.91L67.38,210.51L67.81,211.08L68.28,211.62L68.82,212.20L69.44,212.83L70.12,213.42L70.84,213.89L71.57,214.17L72.29,214.17L73.07,213.96L73.87,213.60L74.68,213.15L75.48,212.66L76.24,212.18L76.95,211.76L77.65,211.32L78.33,210.86L79.00,210.39L79.66,209.90L80.30,209.40L80.92,208.90L81.52,208.38L82.10,207.86L82.65,207.33L83.19,206.80L83.70,206.25L84.20,205.69L84.68,205.12L85.16,204.54L85.62,203.95L86.07,203.36L86.52,202.77L86.96,202.18L87.40,201.59L87.85,201.00L88.29,200.41L88.72,199.82L89.15,199.23L89.58,198.63L89.99,198.04L90.41,197.44L90.82,196.84L91.23,196.24L91.64,195.64L92.05,195.04L92.46,194.44L92.88,193.84L93.29,193.25L93.71,192.65L94.12,192.05L94.54,191.45L94.95,190.86L95.36,190.26L95.77,189.66L96.18,189.06L96.58,188.46L96.98,187.85L97.38,187.25L97.76,186.64L98.15,186.04L98.53,185.43L98.90,184.82L99.27,184.20L99.64,183.59L100.01,182.98L100.37,182.36L100.73,181.75L101.10,181.13L101.46,180.52L101.82,179.90L102.18,179.29L102.54,178.67L102.91,178.06L103.27,177.45L103.64,176.83L104.02,176.22L104.39,175.61L104.77,175.00L105.16,174.40L105.55,173.79L105.95,173.19L106.35,172.58L106.75,171.98L107.15,171.38L107.55,170.77L107.94,170.17L108.33,169.56L108.70,168.95L109.08,168.34L109.44,167.73L109.81,167.11L110.17,166.50L110.53,165.88L110.90,165.27L111.27,164.66L111.64,164.05L112.03,163.44L112.41,162.83L112.80,162.23L113.20,161.62L113.59,161.02L113.99,160.41L114.40,159.81L114.81,159.21L115.22,158.61L115.64,158.02L116.07,157.43L116.50,156.84L116.95,156.25L117.40,155.67L117.85,155.08L118.31,154.50L118.77,153.92L119.24,153.34L119.71,152.77L120.18,152.19L120.65,151.61L121.12,151.04L121.61,150.47L122.09,149.90L122.58,149.33L123.06,148.76L123.55,148.19L124.05,147.62L124.54,147.06L125.03,146.49L125.52,145.92L126.01,145.35L126.50,144.79L127.00,144.22L127.49,143.65L127.99,143.09L128.48,142.52L128.98,141.96L129.48,141.40L129.99,140.83L130.50,140.28L131.01,139.72L131.53,139.16L132.05,138.61L132.58,138.06L133.10,137.51L133.63,136.96L134.16,136.41L134.70,135.86L135.23,135.31L135.76,134.76L136.29,134.21L136.82,133.66L137.35,133.11L137.88,132.56L138.40,132.01L138.92,131.45L139.44,130.89L139.96,130.34L140.48,129.79L141.02,129.24L141.56,128.69L142.11,128.16L142.67,127.63L143.24,127.10L143.82,126.58L144.41,126.06L145.01,125.55L145.61,125.04L146.22,124.53L146.84,124.03L147.46,123.53L148.09,123.03L148.72,122.54L149.35,122.05L149.99,121.56L150.63,121.07L151.27,120.59L151.92,120.11L152.58,119.64L153.24,119.17L153.91,118.70L154.59,118.24L155.27,117.78L155.95,117.32L156.63,116.86L157.32,116.41L158.00,115.96L158.69,115.50L159.38,115.05L160.07,114.60L160.77,114.15L161.47,113.71L162.17,113.27L162.88,112.83L163.59,112.40L164.31,111.97L165.04,111.55L165.77,111.14L166.51,110.74L167.27,110.34L168.03,109.95L168.79,109.57L169.56,109.18L170.33,108.80L171.09,108.42L171.86,108.03L172.63,107.65L173.40,107.27L174.17,106.90L174.94,106.52L175.71,106.14L176.49,105.77L177.26,105.40L178.04,105.02L178.82,104.65L179.60,104.28L180.38,103.91L181.16,103.54L181.94,103.17L182.72,102.81L183.51,102.45L184.30,102.09L185.10,101.75L185.90,101.40L186.70,101.06L187.51,100.72L188.32,100.39L189.14,100.05L189.95,99.73L190.77,99.40L191.59,99.08L192.42,98.77L193.25,98.46L194.08,98.15L194.92,97.86L195.76,97.57L196.60,97.28L197.44,96.99L198.29,96.71L199.14,96.43L200.00,96.16L200.86,95.88L201.72,95.61L202.58,95.35L203.44,95.09L204.31,94.84L205.18,94.59L206.05,94.34L206.93,94.10L207.80,93.87L208.68,93.65L209.56,93.43L210.44,93.21L211.33,93.00L212.22,92.79L213.11,92.58L214.00,92.38L214.90,92.18L215.80,91.98L216.70,91.79L217.60,91.60L218.50,91.42L219.41,91.25L220.32,91.08L221.22,90.92L222.13,90.77L223.04,90.62L223.95,90.48L224.87,90.35L225.78,90.22L226.70,90.09L227.62,89.97L228.55,89.85L229.47,89.74L230.39,89.63L231.32,89.52L232.25,89.41L233.17,89.31L234.10,89.21L235.03,89.11L235.95,89.02L236.88,88.92L237.81,88.83L238.73,88.73L239.66,88.64L240.59,88.55L241.52,88.47L242.45,88.38L243.38,88.30L244.30,88.22L245.23,88.14L246.17,88.06L247.10,87.98L248.03,87.91L248.96,87.84L249.89,87.77L250.82,87.70L251.75,87.64L252.68,87.57L253.61,87.51L254.55,87.44L255.48,87.38L256.41,87.32L257.34,87.26L258.28,87.21L259.21,87.15L260.14,87.10L261.08,87.05L262.01,87.00L262.94,86.95L263.88,86.91L264.81,86.87L265.75,86.82L266.68,86.78L267.62,86.75L268.55,86.71L269.49,86.67L270.42,86.64L271.36,86.60L272.29,86.57L273.23,86.54L274.16,86.51L275.10,86.48L276.03,86.45L276.97,86.42L277.90,86.40L278.84,86.37L279.77,86.35L280.71,86.32L281.65,86.29L282.58,86.27L283.52,86.24L284.45,86.22L285.39,86.19L286.32,86.17L287.26,86.15L288.20,86.14L289.13,86.12L290.07,86.11L291.00,86.10L291.94,86.10L292.88,86.10L293.81,86.10L294.75,86.10L295.68,86.10L296.62,86.10L297.56,86.10L298.49,86.10L299.43,86.10L300.37,86.10L301.30,86.10L302.24,86.10L303.17,86.10L304.11,86.10L305.05,86.10L305.98,86.10L306.92,86.10L307.86,86.10L308.79,86.10L309.73,86.10L310.66,86.10L311.60,86.10L312.54,86.10L313.47,86.10L314.41,86.10L315.35,86.10L316.28,86.10L317.22,86.10L318.15,86.10L319.09,86.10L320.03,86.10L320.96,86.11L321.90,86.11L322.83,86.11L323.77,86.12L324.71,86.12L325.64,86.13L326.58,86.13L327.52,86.14L328.45,86.14L329.39,86.15L330.32,86.16L331.26,86.17L332.20,86.17L333.13,86.18L334.07,86.19L335.00,86.20L335.94,86.21L336.88,86.22L337.81,86.23L338.75,86.24L339.69,86.25L340.62,86.26L341.56,86.27L342.49,86.28L343.43,86.29L344.37,86.30L345.30,86.31L346.24,86.32L347.17,86.33L348.11,86.35L349.05,86.36L349.98,86.37L350.92,86.38L351.86,86.39L352.79,86.40L353.73,86.41L354.66,86.42L355.60,86.43L356.54,86.44L357.47,86.45L358.41,86.46L359.34,86.47L360.28,86.48L361.22,86.49L362.15,86.50L363.09,86.51L364.02,86.52L364.96,86.53L365.90,86.54L366.83,86.54L367.77,86.55L368.71,86.56L369.64,86.56L370.58,86.57L371.51,86.58L372.45,86.58L373.39,86.58L374.32,86.59L375.26,86.59L376.19,86.59L377.13,86.60L378.07,86.60L379.00,86.60L379.94,86.60L380.88,86.60L381.81,86.60L382.75,86.60L383.68,86.60L384.62,86.60L385.56,86.60L386.49,86.59L387.43,86.59L388.36,86.59L389.30,86.59L390.24,86.59L391.17,86.58L392.11,86.58L393.05,86.58L393.98,86.58L394.92,86.57L395.85,86.57L396.79,86.57L397.73,86.56L398.66,86.56L399.60,86.55L400.54,86.55L401.47,86.55L402.41,86.54L403.34,86.54L404.28,86.53L405.22,86.53L406.15,86.52L407.09,86.52L408.02,86.51L408.96,86.51L409.90,86.50L410.83,86.50L411.77,86.49L412.71,86.48L413.64,86.48L414.58,86.47L415.51,86.47L416.45,86.46L417.39,86.46L418.32,86.45L419.26,86.44L420.19,86.44L421.13,86.43L422.07,86.42L423.00,86.42L423.94,86.41L424.88,86.40L425.81,86.40L426.75,86.39L427.68,86.38L428.62,86.38L429.56,86.37L430.49,86.36L431.43,86.36L432.37,86.35L433.30,86.34L434.24,86.34L435.17,86.33L436.11,86.32L437.05,86.32L437.98,86.31L438.92,86.30L439.85,86.30L440.79,86.29L441.73,86.28L442.66,86.28L443.60,86.27L444.54,86.26L445.47,86.26L446.41,86.25L447.34,86.25L448.28,86.24L449.22,86.23L450.15,86.23L451.09,86.22L452.03,86.22L452.96,86.21L453.90,86.20L454.83,86.20L455.77,86.19L456.71,86.19L457.64,86.18L458.58,86.18L459.51,86.17L460.45,86.17L461.39,86.16L462.32,86.16L463.26,86.15L464.20,86.15L465.13,86.14L466.07,86.14L467.00,86.14L467.94,86.13L468.88,86.13L469.81,86.12L470.75,86.12L471.69,86.12L472.62,86.11L473.56,86.11L474.49,86.11L475.43,86.11L476.37,86.10L477.30,86.10L478.24,86.10L479.17,86.10L480.11,86.10L481.05,86.09L481.98,86.09L482.92,86.09L483.86,86.09L484.79,86.09L485.73,86.09L486.66,86.08L487.60,86.08L488.54,86.08L489.47,86.08L490.41,86.08L491.35,86.08L492.28,86.07L493.22,86.07L494.15,86.07L495.09,86.07L496.03,86.07L496.96,86.07L497.90,86.06L498.84,86.06L499.77,86.06L500.71,86.06L501.64,86.06L502.58,86.06L503.52,86.06L504.45,86.05L505.39,86.05L506.33,86.05L507.26,86.05L508.20,86.05L509.13,86.05L510.07,86.04L511.01,86.04L511.94,86.04L512.88,86.04L513.82,86.04L514.75,86.04L515.69,86.04L516.62,86.04L517.56,86.03L518.50,86.03L519.43,86.03L520.37,86.03L521.31,86.03L522.24,86.03L523.18,86.03L524.11,86.03L525.05,86.02L525.99,86.02L526.92,86.02L527.86,86.02L528.79,86.02L529.73,86.02L530.67,86.02L531.60,86.02L532.54,86.02L533.48,86.02L534.41,86.01L535.35,86.01L536.28,86.01L537.22,86.01L538.16,86.01L539.09,86.01L540.03,86.01L540.97,86.01L541.90,86.01L542.84,86.01L543.77,86.01L544.71,86.01L545.65,86.01L546.58,86.00L547.52,86.00L548.45,86.00L549.39,86.00L550.33,86.00L551.26,86.00L552.20,86.00L553.14,86.00L554.07,86.00L555.01,86.00L555.94,86.00L556.88,86.00L557.82,86.00L558.75,86.00L559.69,86.00L560.62,86.00L561.56,86.00L562.50,86.00L563.43,86.00L564.37,86.00L565.31,86.00L566.24,86.01L567.18,86.01L568.11,86.01L569.05,86.02L569.99,86.02L570.92,86.03L571.86,86.04L572.79,86.05L573.73,86.06L574.67,86.06L575.60,86.07L576.54,86.08L577.47,86.10L578.41,86.11L579.35,86.12L580.28,86.13L581.22,86.14L582.15,86.16L583.09,86.17L584.03,86.19L584.96,86.20L585.90,86.22L586.83,86.23L587.77,86.25L588.71,86.27L589.64,86.28L590.58,86.30L591.51,86.32L592.45,86.33L593.38,86.35L594.32,86.37L595.26,86.39L596.19,86.41L597.13,86.43L598.06,86.45L599.00,86.46L599.94,86.48L600.87,86.50L601.81,86.52L602.74,86.54L603.68,86.56L604.62,86.58L605.55,86.60L606.49,86.62L607.42,86.64L608.36,86.66L609.30,86.68L610.23,86.70L611.17,86.72L612.10,86.74L613.04,86.76L613.98,86.78L614.91,86.80L615.85,86.81L616.78,86.83L617.72,86.85L618.66,86.87L619.59,86.89L620.53,86.90L621.46,86.92L622.40,86.94L623.34,86.95L624.27,86.97L625.21,86.99L626.14,87.00L627.08,87.02L628.02,87.03L628.95,87.05L629.89,87.06L630.82,87.07L631.76,87.09L632.70,87.10L633.63,87.11L634.57,87.12L635.50,87.13L636.44,87.15L637.38,87.16L638.31,87.17L639.25,87.18L640.18,87.20L641.12,87.21L642.06,87.22L642.99,87.24L643.93,87.25L644.86,87.26L645.80,87.28L646.74,87.29L647.67,87.30L648.61,87.32L649.54,87.33L650.48,87.34L651.42,87.36L652.35,87.37L653.29,87.38L654.22,87.40L655.16,87.41L656.10,87.42L657.03,87.44L657.97,87.45L658.91,87.46L659.84,87.47L660.78,87.49L661.71,87.50L662.65,87.51L663.59,87.52L664.52,87.53L665.46,87.54L666.39,87.55L667.33,87.57L668.27,87.58L669.20,87.59L670.14,87.60L671.07,87.60L672.01,87.61L672.95,87.62L673.88,87.63L674.82,87.64L675.76,87.65L676.69,87.65L677.63,87.66L678.56,87.67L679.50,87.67L680.44,87.68L681.37,87.68L682.31,87.69L683.24,87.69L684.18,87.69L685.12,87.69L686.05,87.70L686.99,87.70L687.92,87.70L688.86,87.70L689.80,87.70L690.73,87.70L691.67,87.70L692.61,87.70L693.54,87.70L694.48,87.70L695.41,87.70L696.35,87.69L697.29,87.69L698.22,87.69L699.16,87.69L700.10,87.69L701.03,87.68L701.97,87.68L702.90,87.68L703.84,87.68L704.78,87.67L705.71,87.67L706.65,87.67L707.58,87.66L708.52,87.66L709.46,87.66L710.39,87.65L711.33,87.65L712.27,87.64L713.20,87.64L714.14,87.63L715.07,87.63L716.01,87.63L716.95,87.62L717.88,87.62L718.82,87.61L719.76,87.61L720.69,87.60L721.63,87.60L722.56,87.59L723.50,87.58L724.44,87.58L725.37,87.57L726.31,87.57L727.24,87.56L728.18,87.56L729.12,87.55L730.05,87.55L730.99,87.54L731.93,87.53L732.86,87.53L733.80,87.52L734.73,87.52L735.67,87.51L736.61,87.50L737.54,87.50L738.48,87.49L739.42,87.48L740.35,87.48L741.29,87.47L742.22,87.47L743.16,87.46L744.10,87.45L745.03,87.45L745.97,87.44L746.90,87.43L747.84,87.43L748.78,87.42L749.71,87.42L750.65,87.41L751.59,87.40L752.52,87.40L753.46,87.39L754.39,87.39L755.33,87.38L756.27,87.37L757.20,87.37L758.14,87.36L759.07,87.35L760.01,87.34L760.95,87.34L761.88,87.33L762.82,87.32L763.76,87.31L764.69,87.31L765.63,87.30L766.56,87.29L767.50,87.28L768.44,87.27L769.37,87.26L770.31,87.26L771.24,87.25L772.18,87.24L773.12,87.23L774.05,87.22L774.99,87.21L775.92,87.20L776.86,87.19L777.80,87.18L778.73,87.17L779.67,87.16L780.61,87.15L781.54,87.14L782.48,87.13L783.41,87.12L784.35,87.11L785.29,87.10L786.22,87.09L787.16,87.08L788.09,87.07L789.03,87.06L789.97,87.05L790.90,87.04L791.84,87.03L792.77,87.02L793.71,87.01L794.65,87.00L795.58,86.99L796.52,86.98L797.46,86.96L798.39,86.95L799.33,86.94L800.26,86.93L801.20,86.92L802.14,86.91L803.07,86.90L804.01,86.89L804.94,86.88L805.88,86.87L806.82,86.86L807.75,86.84L808.69,86.83L809.62,86.82L810.56,86.81L811.50,86.80L812.43,86.79L813.37,86.78L814.30,86.77L815.24,86.76L816.18,86.75L817.11,86.74L818.05,86.73L818.99,86.72L819.92,86.70L820.86,86.69L821.79,86.68L822.73,86.67L823.67,86.66L824.60,86.65L825.54,86.64L826.47,86.63L827.41,86.62L828.35,86.61L829.28,86.60L830.22,86.59L831.15,86.58L832.09,86.57L833.03,86.56L833.96,86.55L834.90,86.53L835.83,86.52L836.77,86.51L837.71,86.49L838.64,86.48L839.58,86.47L840.52,86.45L841.45,86.44L842.39,86.43L843.32,86.42L844.26,86.40L845.20,86.39L846.13,86.38L847.07,86.37L848.00,86.36L848.94,86.35L849.88,86.34L850.81,86.33L851.75,86.32L852.68,86.32L853.62,86.31L854.56,86.31L855.49,86.30L856.43,86.30L857.37,86.30L858.30,86.30L859.24,86.30L860.17,86.30L861.11,86.30L862.05,86.31L862.98,86.31L863.92,86.31L864.85,86.31L865.79,86.32L866.73,86.32L867.66,86.32L868.60,86.33L869.54,86.33L870.47,86.34L871.41,86.34L872.34,86.35L873.28,86.36L874.22,86.36L875.15,86.37L876.09,86.37L877.02,86.38L877.96,86.39L878.90,86.39L879.83,86.40L880.77,86.41L881.71,86.42L882.64,86.42L883.58,86.43L884.51,86.44L885.45,86.44L886.39,86.45L887.32,86.46L888.26,86.47L889.20,86.47L890.13,86.48L891.07,86.49L892.00,86.49L892.94,86.50L893.88,86.51L894.81,86.52L895.75,86.52L896.68,86.53L897.62,86.54L898.56,86.55L899.49,86.55L900.43,86.56L901.37,86.57L902.30,86.58L903.24,86.59L904.17,86.60L905.11,86.60L906.05,86.61L906.98,86.62L907.92,86.63L908.85,86.64L909.79,86.65L910.73,86.66L911.66,86.67L912.60,86.68L913.53,86.69L914.47,86.70L915.41,86.71L916.34,86.72L917.28,86.73L918.22,86.74L919.15,86.75L920.09,86.76L921.02,86.77L921.96,86.78L922.90,86.80L923.83,86.81L924.77,86.82L925.70,86.83L926.64,86.84L927.58,86.85L928.51,86.86L929.45,86.88L930.38,86.89L931.32,86.90" stroke="#8f2246" stroke-width="2.0" stroke-dasharray="7.0 6.825" stroke-dashoffset="-0.5"/>
</g>
<path d="M212.0,75.0 L330.0,74.3 L677.5,74.3" stroke="#d5ebf0" stroke-width="3.2" fill="none"/>
<path d="M212.00,75.00V75.90M214.60,74.95V75.92M217.20,74.90V75.94M219.80,74.85V75.96M222.40,74.81V75.98M225.00,74.76V76.00M227.60,74.71V76.02M230.20,74.66V76.04M232.80,74.61V76.06M235.40,74.56V76.08M238.00,74.52V76.10M240.60,74.47V76.12M243.20,74.42V76.14M245.80,74.37V76.16M248.40,74.32V76.18M251.00,74.27V76.20M253.60,74.22V76.22M256.20,74.18V76.24M258.80,74.13V76.26M261.40,74.08V76.28M264.00,74.03V76.30M266.60,73.98V76.32M269.20,73.93V76.34M271.80,73.89V76.36M274.40,73.84V76.38M277.00,73.79V76.40M279.60,73.74V76.42M282.20,73.69V76.44M284.80,73.64V76.46M287.40,73.59V76.48M290.00,73.55V76.49M292.60,73.50V76.51M295.20,73.45V76.53M297.80,73.40V76.55M300.40,73.35V76.57M303.00,73.30V76.59M305.60,73.25V76.61M308.20,73.21V76.63M310.80,73.16V76.65M313.40,73.11V76.67M316.00,73.06V76.69M318.60,73.01V76.71M321.20,72.96V76.73M323.80,72.92V76.75M326.40,72.87V76.77M329.00,72.82V76.79M331.60,72.80V76.80M334.20,72.80V76.80M336.80,72.80V76.80M339.40,72.80V76.80M342.00,72.80V76.80M344.60,72.80V76.80M347.20,72.80V76.80M349.80,72.80V76.80M352.40,72.80V76.80M355.00,72.80V76.80M357.60,72.80V76.80M360.20,72.80V76.80M362.80,72.80V76.80M365.40,72.80V76.80M368.00,72.80V76.80M370.60,72.80V76.80M373.20,72.80V76.80M375.80,72.80V76.80M378.40,72.80V76.80M381.00,72.80V76.80M383.60,72.80V76.80M386.20,72.80V76.80M388.80,72.80V76.80M391.40,72.80V76.80M394.00,72.80V76.80M396.60,72.80V76.80M399.20,72.80V76.80M401.80,72.80V76.80M404.40,72.80V76.80M407.00,72.80V76.80M409.60,72.80V76.80M412.20,72.80V76.80M414.80,72.80V76.80M417.40,72.80V76.80M420.00,72.80V76.80M422.60,72.80V76.80M425.20,72.80V76.80M427.80,72.80V76.80M430.40,72.80V76.80M433.00,72.80V76.80M435.60,72.80V76.80M438.20,72.80V76.80M440.80,72.80V76.80M443.40,72.80V76.80M446.00,72.80V76.80M448.60,72.80V76.80M451.20,72.80V76.80M453.80,72.80V76.80M456.40,72.80V76.80M459.00,72.80V76.80M461.60,72.80V76.80M464.20,72.80V76.80M466.80,72.80V76.80M469.40,72.80V76.80M472.00,72.80V76.80M474.60,72.80V76.80M477.20,72.80V76.80M479.80,72.80V76.80M482.40,72.80V76.80M485.00,72.80V76.80M487.60,72.80V76.80M490.20,72.80V76.80M492.80,72.80V76.80M495.40,72.80V76.80M498.00,72.80V76.80M500.60,72.80V76.80M503.20,72.80V76.80M505.80,72.80V76.80M508.40,72.80V76.80M511.00,72.80V76.80M513.60,72.80V76.80M516.20,72.80V76.80M518.80,72.80V76.80M521.40,72.80V76.80M524.00,72.80V76.80M526.60,72.80V76.80M529.20,72.80V76.80M531.80,72.80V76.80M534.40,72.80V76.80M537.00,72.80V76.80M539.60,72.80V76.80M542.20,72.80V76.80M544.80,72.80V76.80M547.40,72.80V76.80M550.00,72.80V76.80M552.60,72.80V76.80M555.20,72.80V76.80M557.80,72.80V76.80M560.40,72.80V76.80M563.00,72.80V76.80M565.60,72.80V76.80M568.20,72.80V76.80M570.80,72.80V76.80M573.40,72.80V76.80M576.00,72.80V76.80M578.60,72.80V76.80M581.20,72.80V76.80M583.80,72.80V76.80M586.40,72.80V76.80M589.00,72.80V76.80M591.60,72.80V76.80M594.20,72.80V76.80M596.80,72.80V76.80M599.40,72.80V76.80M602.00,72.80V76.80M604.60,72.80V76.80M607.20,72.80V76.80M609.80,72.80V76.80M612.40,72.80V76.80M615.00,72.80V76.80M617.60,72.80V76.80M620.20,72.80V76.80M622.80,72.80V76.80M625.40,72.80V76.80M628.00,72.80V76.80M630.60,72.80V76.80M633.20,72.80V76.80M635.80,72.80V76.80M638.40,72.80V76.80M641.00,72.80V76.80M643.60,72.80V76.80M646.20,72.80V76.80M648.80,72.80V76.80M651.40,72.80V76.80M654.00,72.80V76.80M656.60,72.80V76.80M659.20,72.80V76.80M661.80,72.80V76.80M664.40,72.80V76.80M667.00,72.80V76.80M669.60,72.80V76.80M672.20,72.80V76.80M674.80,72.80V76.80M677.40,72.80V76.80" stroke="#335f78" stroke-width="0.75" fill="none"/>
<g transform="translate(50.0,0) scale(0.712,1) translate(-50.0,0)" fill="none" stroke-linecap="butt" stroke-linejoin="round">
<path d="M50.00,97.50L50.60,96.97L51.26,96.52L51.99,96.15L52.78,95.81L53.61,95.49L54.47,95.19L55.33,94.91L56.20,94.63L57.06,94.34L57.90,94.05L58.74,93.77L59.60,93.49L60.45,93.22L61.31,92.95L62.17,92.68L63.02,92.40L63.86,92.12L64.70,91.82L65.54,91.52L66.37,91.22L67.21,90.92L68.04,90.60L68.86,90.28L69.67,89.95L70.47,89.62L71.26,89.27L72.04,88.91L72.82,88.53L73.59,88.15L74.36,87.77L75.11,87.37L75.86,86.97L76.60,86.56L77.34,86.15L78.05,85.72L78.76,85.28L79.45,84.84L80.15,84.39L80.86,83.95L81.56,83.52L82.27,83.08L82.97,82.64L83.67,82.19L84.38,81.76L85.08,81.32L85.79,80.88L86.51,80.45L87.23,80.03L87.95,79.61L88.69,79.20L89.43,78.79L90.17,78.39L90.92,77.98L91.67,77.58L92.42,77.18L93.19,76.79L93.95,76.41L94.73,76.03L95.52,75.67L96.31,75.32L97.11,74.99L97.93,74.67L98.77,74.38L99.62,74.09L100.48,73.83L101.34,73.56L102.20,73.30L103.07,73.05L103.94,72.81L104.82,72.58L105.71,72.36L106.60,72.17L107.50,71.99L108.40,71.80L109.31,71.63L110.22,71.48L111.14,71.34L112.06,71.24L112.99,71.16L113.91,71.09L114.85,71.03L115.78,70.97L116.72,70.93L117.66,70.91L118.59,70.90L119.53,70.91L120.46,70.93L121.40,70.96L122.33,71.00L123.27,71.04L124.20,71.09L125.13,71.14L126.05,71.23L126.98,71.33L127.90,71.45L128.82,71.58L129.74,71.72L130.66,71.85L131.57,71.99L132.48,72.15L133.39,72.31L134.30,72.47L135.21,72.63L136.12,72.77L137.04,72.88L137.97,72.98L138.90,73.08L139.82,73.19L140.73,73.33L141.64,73.48L142.54,73.65L143.45,73.83L144.35,74.01L145.25,74.18L146.16,74.35L147.06,74.52L147.97,74.69L148.87,74.86L149.78,75.03L150.68,75.20L151.59,75.36L152.49,75.53L153.40,75.70L154.31,75.87L155.21,76.03L156.12,76.19L157.03,76.35L157.94,76.50L158.85,76.66L159.76,76.81L160.68,76.95L161.59,77.09L162.51,77.22L163.43,77.35L164.35,77.47L165.27,77.58L166.19,77.69L167.11,77.80L168.04,77.90L168.97,77.99L169.89,78.08L170.82,78.17L171.75,78.25L172.68,78.31L173.61,78.38L174.54,78.44L175.48,78.49L176.41,78.54L177.34,78.58L178.28,78.61L179.21,78.63L180.15,78.66L181.08,78.68L182.02,78.69L182.96,78.70L183.89,78.70L184.83,78.69L185.76,78.68L186.70,78.66L187.63,78.64L188.57,78.61L189.50,78.59L190.43,78.54L191.36,78.49L192.30,78.42L193.23,78.35L194.16,78.27L195.09,78.19L196.02,78.11L196.95,78.03L197.88,77.96L198.81,77.90L199.74,77.85L200.67,77.81L201.61,77.76L202.54,77.71L203.48,77.67L204.41,77.63L205.34,77.59L206.28,77.55L207.21,77.51L208.15,77.48L209.08,77.44L210.01,77.40L210.95,77.37L211.88,77.33L212.82,77.30L213.75,77.26L214.69,77.23L215.62,77.20L216.55,77.16L217.49,77.14L218.42,77.11L219.36,77.08L220.29,77.06L221.23,77.03L222.16,77.01L223.10,76.99L224.03,76.97L224.97,76.95L225.90,76.92L226.84,76.91L227.77,76.89L228.71,76.86L229.64,76.84L230.58,76.82L231.52,76.80L232.45,76.78L233.39,76.76L234.32,76.74L235.26,76.72L236.19,76.71L237.13,76.70L238.06,76.70L239.00,76.70L239.93,76.70L240.87,76.70L241.80,76.70L242.74,76.70L243.68,76.70L244.61,76.70L245.55,76.70L246.48,76.70L247.42,76.70L248.35,76.70L249.29,76.70L250.23,76.70L251.16,76.70L252.10,76.70L253.03,76.70L253.97,76.70L254.90,76.70L255.84,76.70L256.77,76.70L257.71,76.71L258.65,76.71L259.58,76.72L260.52,76.72L261.45,76.73L262.39,76.73L263.32,76.74L264.26,76.74L265.19,76.75L266.13,76.76L267.07,76.76L268.00,76.77L268.94,76.77L269.87,76.78L270.81,76.78L271.74,76.79L272.68,76.79L273.61,76.80L274.55,76.80L275.49,76.80L276.42,76.80L277.36,76.81L278.29,76.81L279.23,76.81L280.16,76.81L281.10,76.82L282.03,76.82L282.97,76.82L283.91,76.83L284.84,76.83L285.78,76.83L286.71,76.83L287.65,76.83L288.58,76.84L289.52,76.84L290.45,76.84L291.39,76.84L292.33,76.85L293.26,76.85L294.20,76.85L295.13,76.85L296.07,76.86L297.00,76.86L297.94,76.86L298.87,76.86L299.81,76.86L300.75,76.87L301.68,76.87L302.62,76.87L303.55,76.87L304.49,76.87L305.42,76.87L306.36,76.88L307.29,76.88L308.23,76.88L309.17,76.88L310.10,76.88L311.04,76.88L311.97,76.89L312.91,76.89L313.84,76.89L314.78,76.89L315.71,76.89L316.65,76.89L317.59,76.89L318.52,76.89L319.46,76.89L320.39,76.90L321.33,76.90L322.26,76.90L323.20,76.90L324.13,76.90L325.07,76.90L326.01,76.90L326.94,76.90L327.88,76.90L328.81,76.90L329.75,76.90L330.68,76.90L331.62,76.90L332.55,76.90L333.49,76.90L334.43,76.90L335.36,76.90L336.30,76.90L337.23,76.90L338.17,76.90L339.10,76.90L340.04,76.90L340.97,76.90L341.91,76.90L342.85,76.90L343.78,76.90L344.72,76.90L345.65,76.90L346.59,76.90L347.52,76.90L348.46,76.90L349.39,76.90L350.33,76.90L351.27,76.90L352.20,76.90L353.14,76.90L354.07,76.90L355.01,76.90L355.94,76.90L356.88,76.90L357.82,76.90L358.75,76.90L359.69,76.90L360.62,76.90L361.56,76.90L362.49,76.90L363.43,76.90L364.36,76.90L365.30,76.90L366.24,76.90L367.17,76.90L368.11,76.90L369.04,76.90L369.98,76.90L370.91,76.90L371.85,76.90L372.78,76.90L373.72,76.90L374.66,76.90L375.59,76.90L376.53,76.90L377.46,76.90L378.40,76.90L379.33,76.90L380.27,76.90L381.20,76.90L382.14,76.90L383.08,76.90L384.01,76.90L384.95,76.90L385.88,76.90L386.82,76.90L387.75,76.90L388.69,76.90L389.62,76.90L390.56,76.90L391.50,76.90L392.43,76.90L393.37,76.90L394.30,76.90L395.24,76.90L396.17,76.90L397.11,76.90L398.04,76.90L398.98,76.90L399.92,76.90L400.85,76.90L401.79,76.90L402.72,76.90L403.66,76.90L404.59,76.90L405.53,76.90L406.46,76.90L407.40,76.90L408.34,76.90L409.27,76.90L410.21,76.90L411.14,76.90L412.08,76.90L413.01,76.90L413.95,76.90L414.88,76.90L415.82,76.90L416.76,76.90L417.69,76.90L418.63,76.90L419.56,76.90L420.50,76.90L421.43,76.90L422.37,76.90L423.31,76.90L424.24,76.90L425.18,76.90L426.11,76.90L427.05,76.90L427.98,76.90L428.92,76.90L429.85,76.90L430.79,76.90L431.73,76.90L432.66,76.90L433.60,76.90L434.53,76.90L435.47,76.90L436.40,76.90L437.34,76.90L438.27,76.90L439.21,76.90L440.15,76.90L441.08,76.90L442.02,76.90L442.95,76.90L443.89,76.90L444.82,76.90L445.76,76.90L446.69,76.90L447.63,76.90L448.57,76.90L449.50,76.90L450.44,76.90L451.37,76.90L452.31,76.90L453.24,76.90L454.18,76.90L455.11,76.90L456.05,76.90L456.99,76.90L457.92,76.90L458.86,76.90L459.79,76.90L460.73,76.90L461.66,76.90L462.60,76.90L463.53,76.90L464.47,76.90L465.41,76.90L466.34,76.90L467.28,76.90L468.21,76.90L469.15,76.90L470.08,76.90L471.02,76.90L471.95,76.90L472.89,76.90L473.83,76.90L474.76,76.90L475.70,76.90L476.63,76.90L477.57,76.90L478.50,76.90L479.44,76.90L480.37,76.90L481.31,76.90L482.25,76.90L483.18,76.90L484.12,76.90L485.05,76.90L485.99,76.90L486.92,76.90L487.86,76.90L488.80,76.90L489.73,76.90L490.67,76.90L491.60,76.90L492.54,76.90L493.47,76.90L494.41,76.90L495.34,76.90L496.28,76.90L497.22,76.90L498.15,76.90L499.09,76.90L500.02,76.90L500.96,76.90L501.89,76.90L502.83,76.90L503.76,76.90L504.70,76.90L505.64,76.90L506.57,76.90L507.51,76.90L508.44,76.90L509.38,76.90L510.31,76.90L511.25,76.90L512.18,76.90L513.12,76.90L514.06,76.90L514.99,76.90L515.93,76.90L516.86,76.90L517.80,76.90L518.73,76.90L519.67,76.90L520.60,76.90L521.54,76.90L522.48,76.90L523.41,76.90L524.35,76.90L525.28,76.90L526.22,76.90L527.15,76.90L528.09,76.90L529.02,76.90L529.96,76.90L530.90,76.90L531.83,76.90L532.77,76.90L533.70,76.90L534.64,76.90L535.57,76.90L536.51,76.90L537.44,76.90L538.38,76.90L539.32,76.90L540.25,76.90L541.19,76.90L542.12,76.90L543.06,76.90L543.99,76.90L544.93,76.90L545.86,76.90L546.80,76.90L547.74,76.90L548.67,76.90L549.61,76.90L550.54,76.90L551.48,76.90L552.41,76.90L553.35,76.90L554.29,76.90L555.22,76.90L556.16,76.90L557.09,76.90L558.03,76.90L558.96,76.90L559.90,76.90L560.83,76.90L561.77,76.90L562.71,76.90L563.64,76.90L564.58,76.90L565.51,76.90L566.45,76.90L567.38,76.90L568.32,76.90L569.25,76.90L570.19,76.90L571.13,76.90L572.06,76.90L573.00,76.90L573.93,76.90L574.87,76.90L575.80,76.90L576.74,76.90L577.67,76.90L578.61,76.90L579.55,76.90L580.48,76.90L581.42,76.90L582.35,76.90L583.29,76.90L584.22,76.90L585.16,76.90L586.09,76.90L587.03,76.90L587.97,76.90L588.90,76.90L589.84,76.90L590.77,76.90L591.71,76.90L592.64,76.90L593.58,76.90L594.51,76.90L595.45,76.90L596.39,76.90L597.32,76.90L598.26,76.90L599.19,76.90L600.13,76.90L601.06,76.90L602.00,76.90L602.93,76.90L603.87,76.90L604.81,76.90L605.74,76.90L606.68,76.90L607.61,76.90L608.55,76.90L609.48,76.90L610.42,76.90L611.35,76.90L612.29,76.90L613.23,76.90L614.16,76.90L615.10,76.90L616.03,76.90L616.97,76.90L617.90,76.90L618.84,76.90L619.78,76.90L620.71,76.90L621.65,76.90L622.58,76.90L623.52,76.90L624.45,76.90L625.39,76.90L626.32,76.90L627.26,76.90L628.20,76.90L629.13,76.90L630.07,76.90L631.00,76.90L631.94,76.90L632.87,76.90L633.81,76.90L634.74,76.90L635.68,76.90L636.62,76.90L637.55,76.90L638.49,76.90L639.42,76.90L640.36,76.90L641.29,76.90L642.23,76.90L643.16,76.90L644.10,76.90L645.04,76.90L645.97,76.90L646.91,76.90L647.84,76.90L648.78,76.90L649.71,76.90L650.65,76.90L651.58,76.90L652.52,76.90L653.46,76.90L654.39,76.90L655.33,76.90L656.26,76.90L657.20,76.90L658.13,76.90L659.07,76.90L660.00,76.90L660.94,76.90L661.88,76.90L662.81,76.90L663.75,76.90L664.68,76.90L665.62,76.90L666.55,76.90L667.49,76.90L668.42,76.90L669.36,76.90L670.30,76.90L671.23,76.90L672.17,76.90L673.10,76.90L674.04,76.90L674.97,76.90L675.91,76.90L676.84,76.90L677.78,76.90L678.72,76.90L679.65,76.90L680.59,76.90L681.52,76.90L682.46,76.90L683.39,76.90L684.33,76.90L685.27,76.90L686.20,76.90L687.14,76.90L688.07,76.90L689.01,76.90L689.94,76.90L690.88,76.90L691.81,76.90L692.75,76.90L693.69,76.90L694.62,76.90L695.56,76.90L696.49,76.90L697.43,76.90L698.36,76.90L699.30,76.90L700.23,76.90L701.17,76.90L702.11,76.90L703.04,76.90L703.98,76.90L704.91,76.90L705.85,76.90L706.78,76.90L707.72,76.90L708.65,76.90L709.59,76.90L710.53,76.90L711.46,76.90L712.40,76.90L713.33,76.90L714.27,76.90L715.20,76.90L716.14,76.90L717.07,76.90L718.01,76.90L718.95,76.90L719.88,76.90L720.82,76.90L721.75,76.90L722.69,76.90L723.62,76.90L724.56,76.90L725.49,76.90L726.43,76.90L727.37,76.90L728.30,76.90L729.24,76.90L730.17,76.90L731.11,76.90L732.04,76.90L732.98,76.90L733.91,76.90L734.85,76.90L735.79,76.90L736.72,76.90L737.66,76.90L738.59,76.90L739.53,76.90L740.46,76.90L741.40,76.90L742.33,76.90L743.27,76.90L744.21,76.90L745.14,76.90L746.08,76.90L747.01,76.90L747.95,76.90L748.88,76.90L749.82,76.90L750.75,76.90L751.69,76.90L752.63,76.90L753.56,76.90L754.50,76.90L755.43,76.90L756.37,76.90L757.30,76.90L758.24,76.90L759.18,76.90L760.11,76.90L761.05,76.90L761.98,76.90L762.92,76.90L763.85,76.90L764.79,76.90L765.72,76.90L766.66,76.90L767.60,76.90L768.53,76.90L769.47,76.90L770.40,76.90L771.34,76.90L772.27,76.90L773.21,76.90L774.14,76.90L775.08,76.90L776.02,76.90L776.95,76.90L777.89,76.90L778.82,76.90L779.76,76.90L780.69,76.90L781.63,76.90L782.56,76.90L783.50,76.90L784.44,76.90L785.37,76.90L786.31,76.90L787.24,76.90L788.18,76.90L789.11,76.90L790.05,76.90L790.98,76.90L791.92,76.90L792.86,76.90L793.79,76.90L794.73,76.90L795.66,76.90L796.60,76.90L797.53,76.90L798.47,76.90L799.40,76.90L800.34,76.90L801.28,76.90L802.21,76.90L803.15,76.90L804.08,76.90L805.02,76.90L805.95,76.90L806.89,76.90L807.82,76.90L808.76,76.90L809.70,76.90L810.63,76.90L811.57,76.90L812.50,76.90L813.44,76.90L814.37,76.90L815.31,76.90L816.24,76.90L817.18,76.90L818.12,76.90L819.05,76.90L819.99,76.90L820.92,76.90L821.86,76.90L822.79,76.90L823.73,76.90L824.67,76.90L825.60,76.90L826.54,76.90L827.47,76.90L828.41,76.90L829.34,76.90L830.28,76.90L831.21,76.90L832.15,76.90L833.09,76.90L834.02,76.90L834.96,76.90L835.89,76.90L836.83,76.90L837.76,76.90L838.70,76.90L839.63,76.90L840.57,76.90L841.51,76.90L842.44,76.90L843.38,76.90L844.31,76.90L845.25,76.90L846.18,76.90L847.12,76.90L848.05,76.90L848.99,76.90L849.93,76.90L850.86,76.90L851.80,76.90L852.73,76.90L853.67,76.90L854.60,76.90L855.54,76.90L856.47,76.90L857.41,76.90L858.35,76.90L859.28,76.90L860.22,76.90L861.15,76.90L862.09,76.90L863.02,76.90L863.96,76.90L864.89,76.90L865.83,76.90L866.77,76.90L867.70,76.90L868.64,76.90L869.57,76.90L870.51,76.90L871.44,76.90L872.38,76.90L873.31,76.90L874.25,76.90L875.19,76.90L876.12,76.90L877.06,76.90L877.99,76.90L878.93,76.90L879.86,76.90L880.80,76.90L881.73,76.90L882.67,76.90L883.61,76.90L884.54,76.90L885.48,76.90L886.41,76.90L887.35,76.90L888.28,76.90L889.22,76.90L890.16,76.90L891.09,76.90L892.03,76.90L892.96,76.90L893.90,76.90L894.83,76.90L895.77,76.90L896.70,76.90L897.64,76.90L898.58,76.90L899.51,76.90L900.45,76.90L901.38,76.90L902.32,76.90L903.25,76.90L904.19,76.90L905.12,76.90L906.06,76.90L907.00,76.90L907.93,76.90L908.87,76.90L909.80,76.90L910.74,76.90L911.67,76.90L912.61,76.90L913.54,76.90L914.48,76.90L915.42,76.90L916.35,76.90L917.29,76.90L918.22,76.90L919.16,76.90L920.09,76.90L921.03,76.90L921.96,76.90L922.90,76.90L923.84,76.90L924.77,76.90L925.71,76.90L926.64,76.90L927.58,76.90L928.51,76.90L929.45,76.90L930.38,76.90L931.32,76.90" stroke="#70378e" stroke-width="2.1" stroke-dasharray="7.2 1.6 3.0 1.8"/>
<path d="M50.00,97.50L50.03,96.83L50.09,96.17L50.15,95.50L50.23,94.84L50.33,94.17L50.43,93.51L50.54,92.85L50.66,92.20L50.78,91.54L50.91,90.88L51.07,90.23L51.27,89.58L51.48,88.93L51.71,88.29L51.93,87.64L52.13,86.99L52.32,86.34L52.49,85.68L52.66,85.03L52.82,84.37L52.98,83.72L53.14,83.06L53.30,82.41L53.47,81.75L53.65,81.10L53.82,80.45L54.01,79.80L54.19,79.15L54.38,78.49L54.57,77.84L54.75,77.19L54.95,76.54L55.14,75.89L55.34,75.24L55.53,74.59L55.73,73.94L55.92,73.29L56.11,72.64L56.30,71.99L56.47,71.33L56.65,70.68L56.81,70.02L56.98,69.37L57.14,68.72L57.31,68.06L57.49,67.41L57.68,66.76L57.87,66.11L58.08,65.46L58.29,64.81L58.51,64.16L58.73,63.52L58.96,62.87L59.19,62.23L59.43,61.59L59.68,60.94L59.93,60.30L60.19,59.67L60.46,59.03L60.74,58.40L61.02,57.76L61.31,57.13L61.61,56.50L61.91,55.87L62.20,55.24L62.50,54.61L62.79,53.97L63.08,53.34L63.37,52.71L63.66,52.07L63.95,51.44L64.25,50.81L64.56,50.19L64.89,49.57L65.22,48.95L65.56,48.33L65.92,47.71L66.28,47.09L66.65,46.48L67.04,45.87L67.43,45.27L67.84,44.67L68.26,44.08L68.70,43.50L69.15,42.91L69.62,42.33L70.11,41.76L70.63,41.20L71.16,40.66L71.73,40.14L72.32,39.62L72.95,39.09L73.62,38.59L74.33,38.15L75.08,37.82L75.90,37.56L76.79,37.33L77.72,37.14L78.66,37.02L79.58,37.00L80.52,37.05L81.47,37.13L82.40,37.25L83.30,37.38L84.16,37.57L84.99,37.88L85.80,38.26L86.56,38.67L87.27,39.08L87.95,39.52L88.59,40.00L89.22,40.51L89.82,41.03L90.41,41.56L90.99,42.08L91.56,42.61L92.11,43.14L92.65,43.68L93.18,44.23L93.70,44.79L94.21,45.35L94.72,45.91L95.23,46.46L95.74,47.02L96.25,47.58L96.75,48.14L97.25,48.70L97.75,49.26L98.24,49.83L98.72,50.40L99.19,50.97L99.66,51.55L100.11,52.13L100.56,52.71L101.01,53.30L101.45,53.88L101.90,54.46L102.35,55.05L102.80,55.63L103.24,56.22L103.69,56.80L104.13,57.39L104.58,57.97L105.04,58.55L105.50,59.13L105.96,59.70L106.43,60.28L106.90,60.86L107.37,61.43L107.85,62.00L108.33,62.57L108.81,63.14L109.30,63.71L109.79,64.27L110.29,64.83L110.79,65.39L111.30,65.95L111.82,66.51L112.33,67.06L112.85,67.62L113.36,68.17L113.88,68.73L114.39,69.28L114.91,69.84L115.42,70.39L115.94,70.94L116.46,71.49L116.98,72.05L117.51,72.60L118.03,73.15L118.55,73.70L119.08,74.25L119.60,74.80L120.13,75.35L120.67,75.89L121.21,76.43L121.76,76.97L122.32,77.50L122.88,78.04L123.45,78.57L124.02,79.09L124.61,79.61L125.20,80.12L125.81,80.62L126.43,81.12L127.06,81.62L127.70,82.12L128.35,82.60L129.02,83.06L129.70,83.51L130.40,83.94L131.13,84.35L131.88,84.75L132.64,85.14L133.43,85.52L134.24,85.86L135.05,86.18L135.88,86.47L136.73,86.75L137.60,87.02L138.49,87.25L139.39,87.43L140.29,87.55L141.21,87.65L142.14,87.74L143.07,87.81L144.01,87.87L144.95,87.90L145.87,87.89L146.81,87.84L147.75,87.75L148.68,87.63L149.59,87.49L150.49,87.34L151.37,87.16L152.22,86.92L153.06,86.63L153.89,86.30L154.72,85.97L155.55,85.64L156.38,85.33L157.21,85.03L158.05,84.73L158.88,84.43L159.71,84.12L160.54,83.82L161.37,83.51L162.19,83.20L163.02,82.89L163.85,82.58L164.67,82.27L165.49,81.95L166.31,81.63L167.12,81.30L167.93,80.97L168.73,80.63L169.53,80.29L170.33,79.94L171.12,79.59L171.92,79.24L172.72,78.89L173.51,78.55L174.31,78.20L175.10,77.85L175.89,77.50L176.69,77.15L177.49,76.80L178.28,76.46L179.08,76.11L179.88,75.76L180.68,75.42L181.48,75.08L182.29,74.75L183.11,74.42L183.93,74.11L184.76,73.81L185.60,73.52L186.44,73.23L187.29,72.94L188.14,72.67L188.99,72.39L189.83,72.10L190.69,71.82L191.54,71.55L192.41,71.30L193.29,71.09L194.18,70.91L195.08,70.74L195.99,70.58L196.91,70.44L197.83,70.32L198.75,70.21L199.67,70.12L200.60,70.03L201.53,69.94L202.46,69.87L203.39,69.82L204.33,69.80L205.26,69.80L206.19,69.81L207.13,69.81L208.06,69.82L209.00,69.83L209.93,69.85L210.86,69.87L211.79,69.91L212.73,69.96L213.66,70.03L214.59,70.10L215.51,70.17L216.44,70.25L217.37,70.33L218.29,70.43L219.21,70.53L220.14,70.64L221.06,70.75L221.98,70.86L222.90,70.97L223.82,71.08L224.74,71.19L225.66,71.31L226.58,71.43L227.50,71.55L228.41,71.68L229.33,71.81L230.24,71.95L231.16,72.08L232.07,72.21L232.99,72.34L233.91,72.45L234.83,72.57L235.75,72.68L236.67,72.79L237.59,72.91L238.51,73.02L239.43,73.14L240.35,73.26L241.27,73.38L242.19,73.50L243.11,73.61L244.03,73.72L244.95,73.83L245.87,73.93L246.80,74.03L247.72,74.13L248.65,74.22L249.57,74.31L250.50,74.40L251.42,74.49L252.35,74.58L253.27,74.66L254.20,74.74L255.13,74.80L256.06,74.87L256.99,74.93L257.92,74.98L258.85,75.03L259.79,75.07L260.72,75.10L261.65,75.12L262.59,75.14L263.52,75.16L264.45,75.17L265.39,75.19L266.32,75.19L267.26,75.20L268.19,75.20L269.12,75.20L270.06,75.20L270.99,75.20L271.92,75.20L272.86,75.20L273.79,75.20L274.73,75.20L275.66,75.20L276.59,75.20L277.53,75.20" stroke="#336f8e" stroke-width="1.9" stroke-dasharray="1.6 1.85"/>
</g>
<path d="M212.00,74.90V75.90M214.60,74.92V75.94M217.20,74.94V75.98M219.80,74.96V76.02M222.40,74.98V76.06M225.00,75.00V76.10M227.60,75.02V76.14M230.20,75.04V76.18M232.80,75.06V76.22M235.40,75.08V76.26M238.00,75.10V76.30M240.60,75.12V76.34M243.20,75.14V76.38M245.80,75.16V76.42M248.40,75.18V76.46M251.00,75.20V76.49M253.60,75.22V76.53M256.20,75.24V76.57M258.80,75.26V76.61M261.40,75.28V76.65M264.00,75.30V76.69M266.60,75.32V76.73M269.20,75.34V76.77M271.80,75.36V76.81M274.40,75.38V76.85M277.00,75.40V76.89M279.60,75.42V76.93M282.20,75.44V76.97M284.80,75.46V77.01M287.40,75.48V77.05M290.00,75.49V77.09M292.60,75.51V77.13M295.20,75.53V77.17M297.80,75.55V77.21M300.40,75.57V77.25M303.00,75.59V77.29M305.60,75.61V77.33M308.20,75.63V77.37M310.80,75.65V77.41M313.40,75.67V77.45M316.00,75.69V77.49M318.60,75.71V77.53M321.20,75.73V77.57M323.80,75.75V77.61M326.40,75.77V77.65M329.00,75.79V77.68M331.60,75.80V77.70M334.20,75.80V77.70M336.80,75.80V77.70M339.40,75.80V77.70M342.00,75.80V77.70M344.60,75.80V77.70M347.20,75.80V77.70M349.80,75.80V77.70M352.40,75.80V77.70M355.00,75.80V77.70M357.60,75.80V77.70M360.20,75.80V77.70M362.80,75.80V77.70M365.40,75.80V77.70M368.00,75.80V77.70M370.60,75.80V77.70M373.20,75.80V77.70M375.80,75.80V77.70M378.40,75.80V77.70M381.00,75.80V77.70M383.60,75.80V77.70M386.20,75.80V77.70M388.80,75.80V77.70M391.40,75.80V77.70M394.00,75.80V77.70M396.60,75.80V77.70M399.20,75.80V77.70M401.80,75.80V77.70M404.40,75.80V77.70M407.00,75.80V77.70M409.60,75.80V77.70M412.20,75.80V77.70M414.80,75.80V77.70M417.40,75.80V77.70M420.00,75.80V77.70M422.60,75.80V77.70M425.20,75.80V77.70M427.80,75.80V77.70M430.40,75.80V77.70M433.00,75.80V77.70M435.60,75.80V77.70M438.20,75.80V77.70M440.80,75.80V77.70M443.40,75.80V77.70M446.00,75.80V77.70M448.60,75.80V77.70M451.20,75.80V77.70M453.80,75.80V77.70M456.40,75.80V77.70M459.00,75.80V77.70M461.60,75.80V77.70M464.20,75.80V77.70M466.80,75.80V77.70M469.40,75.80V77.70M472.00,75.80V77.70M474.60,75.80V77.70M477.20,75.80V77.70M479.80,75.80V77.70M482.40,75.80V77.70M485.00,75.80V77.70M487.60,75.80V77.70M490.20,75.80V77.70M492.80,75.80V77.70M495.40,75.80V77.70M498.00,75.80V77.70M500.60,75.80V77.70M503.20,75.80V77.70M505.80,75.80V77.70M508.40,75.80V77.70M511.00,75.80V77.70M513.60,75.80V77.70M516.20,75.80V77.70M518.80,75.80V77.70M521.40,75.80V77.70M524.00,75.80V77.70M526.60,75.80V77.70M529.20,75.80V77.70M531.80,75.80V77.70M534.40,75.80V77.70M537.00,75.80V77.70M539.60,75.80V77.70M542.20,75.80V77.70M544.80,75.80V77.70M547.40,75.80V77.70M550.00,75.80V77.70M552.60,75.80V77.70M555.20,75.80V77.70M557.80,75.80V77.70M560.40,75.80V77.70M563.00,75.80V77.70M565.60,75.80V77.70M568.20,75.80V77.70M570.80,75.80V77.70M573.40,75.80V77.70M576.00,75.80V77.70M578.60,75.80V77.70M581.20,75.80V77.70M583.80,75.80V77.70M586.40,75.80V77.70M589.00,75.80V77.70M591.60,75.80V77.70M594.20,75.80V77.70M596.80,75.80V77.70M599.40,75.80V77.70M602.00,75.80V77.70M604.60,75.80V77.70M607.20,75.80V77.70M609.80,75.80V77.70M612.40,75.80V77.70M615.00,75.80V77.70M617.60,75.80V77.70M620.20,75.80V77.70M622.80,75.80V77.70M625.40,75.80V77.70M628.00,75.80V77.70M630.60,75.80V77.70M633.20,75.80V77.70M635.80,75.80V77.70M638.40,75.80V77.70M641.00,75.80V77.70M643.60,75.80V77.70M646.20,75.80V77.70M648.80,75.80V77.70M651.40,75.80V77.70M654.00,75.80V77.70M656.60,75.80V77.70M659.20,75.80V77.70M661.80,75.80V77.70M664.40,75.80V77.70M667.00,75.80V77.70M669.60,75.80V77.70M672.20,75.80V77.70M674.80,75.80V77.70M677.40,75.80V77.70" stroke="#34597a" stroke-width="0.8" stroke-opacity="0.75" fill="none"/>
</g>
<text transform="translate(50.10,236.80) scale(0.725,1)" font-family="Liberation Sans, sans-serif" font-size="16.0" font-weight="normal" fill="#2e2e2e" text-anchor="middle" stroke="#2e2e2e" stroke-width="0.12">0</text>
<text transform="translate(154.74,236.80) scale(0.725,1)" font-family="Liberation Sans, sans-serif" font-size="16.0" font-weight="normal" fill="#2e2e2e" text-anchor="middle" stroke="#2e2e2e" stroke-width="0.12">0.2</text>
<text transform="translate(259.38,236.80) scale(0.725,1)" font-family="Liberation Sans, sans-serif" font-size="16.0" font-weight="normal" fill="#2e2e2e" text-anchor="middle" stroke="#2e2e2e" stroke-width="0.12">0.4</text>
<text transform="translate(364.02,236.80) scale(0.725,1)" font-family="Liberation Sans, sans-serif" font-size="16.0" font-weight="normal" fill="#2e2e2e" text-anchor="middle" stroke="#2e2e2e" stroke-width="0.12">0.6</text>
<text transform="translate(468.66,236.80) scale(0.725,1)" font-family="Liberation Sans, sans-serif" font-size="16.0" font-weight="normal" fill="#2e2e2e" text-anchor="middle" stroke="#2e2e2e" stroke-width="0.12">0.8</text>
<text transform="translate(573.30,236.80) scale(0.725,1)" font-family="Liberation Sans, sans-serif" font-size="16.0" font-weight="normal" fill="#2e2e2e" text-anchor="middle" stroke="#2e2e2e" stroke-width="0.12">1</text>
<text transform="translate(45.40,68.10) scale(0.725,1)" font-family="Liberation Sans, sans-serif" font-size="16.0" font-weight="normal" fill="#2e2e2e" text-anchor="end" stroke="#2e2e2e" stroke-width="0.12">0.02</text>
<text transform="translate(45.40,103.50) scale(0.725,1)" font-family="Liberation Sans, sans-serif" font-size="16.0" font-weight="normal" fill="#2e2e2e" text-anchor="end" stroke="#2e2e2e" stroke-width="0.12">0</text>
<text transform="translate(45.40,138.90) scale(0.725,1)" font-family="Liberation Sans, sans-serif" font-size="16.0" font-weight="normal" fill="#2e2e2e" text-anchor="end" stroke="#2e2e2e" stroke-width="0.12">-0.02</text>
<text transform="translate(45.40,174.30) scale(0.725,1)" font-family="Liberation Sans, sans-serif" font-size="16.0" font-weight="normal" fill="#2e2e2e" text-anchor="end" stroke="#2e2e2e" stroke-width="0.12">-0.04</text>
<text transform="translate(45.40,209.70) scale(0.725,1)" font-family="Liberation Sans, sans-serif" font-size="16.0" font-weight="normal" fill="#2e2e2e" text-anchor="end" stroke="#2e2e2e" stroke-width="0.12">-0.06</text>
<text transform="translate(303.50,21.40) scale(0.697,1)" font-family="Liberation Sans, sans-serif" font-size="18.0" font-weight="bold" fill="#111" stroke="#111" stroke-width="0.3">Simulink based</text>
<text transform="translate(400.60,20.70) scale(0.935,1)" font-family="Liberation Serif, serif" font-size="17.6" font-weight="normal" fill="#111" stroke="#111" stroke-width="0.25">Δ</text>
<text transform="translate(411.00,21.50) scale(0.77,1)" font-family="Liberation Sans, sans-serif" font-size="17.8" font-weight="bold" fill="#111" stroke="#111" stroke-width="0.3">V</text>
<text transform="translate(420.20,30.00) scale(0.72,1)" font-family="Liberation Sans, sans-serif" font-size="13.5" font-weight="bold" fill="#111" stroke="#111" stroke-width="0.3">t</text>
<text transform="translate(341.20,259.80) scale(0.735,1)" font-family="Liberation Sans, sans-serif" font-size="17.4" font-weight="bold" fill="#111" stroke="#111" stroke-width="0.3">Time(s)</text>
<text transform="translate(15.00,139.00) scale(0.6,1) rotate(-90)" font-family="Liberation Serif, serif" font-size="22.4" font-weight="normal" fill="#1a1a1a">Δ</text>
<text transform="translate(15.30,122.40) scale(0.76,1) rotate(-90)" font-family="Liberation Sans, sans-serif" font-size="17.6" font-weight="bold" fill="#111" stroke="#111" stroke-width="0.3">V</text>
<text transform="translate(22.10,110.90) scale(0.84,1) rotate(-90)" font-family="Liberation Sans, sans-serif" font-size="11.5" font-weight="bold" fill="#111" stroke="#111" stroke-width="0.3">t</text>
<rect x="610.3" y="138.3" width="55.80000000000007" height="64.19999999999999" fill="#ffffff" stroke="none"/>
<line x1="610.3" y1="138.3" x2="666.1" y2="138.3" stroke="#4e4e4e" stroke-width="1.3"/>
<line x1="610.3" y1="202.5" x2="666.1" y2="202.5" stroke="#4e4e4e" stroke-width="1.3"/>
<line x1="610.3" y1="138.3" x2="610.3" y2="202.5" stroke="#8a8a8a" stroke-width="1.6"/>
<line x1="666.1" y1="138.3" x2="666.1" y2="202.5" stroke="#8a8a8a" stroke-width="1.6"/>
<line x1="612.9" y1="150.3" x2="637.6" y2="150.3" stroke="#98203f" stroke-width="2.2" stroke-dasharray="4.6 5.2" stroke-dashoffset="0"/>
<text transform="translate(639.90,155.20) scale(0.77,1)" font-family="Liberation Sans, sans-serif" font-size="14.6" font-weight="bold" fill="#0d0d0d" stroke="#0d0d0d" stroke-width="0.35">GSA</text>
<line x1="612.9" y1="170.7" x2="637.6" y2="170.7" stroke="#743089" stroke-width="2.1" stroke-dasharray="4.8 1.2 1.8 1.2" stroke-dashoffset="0"/>
<text transform="translate(639.90,175.50) scale(0.77,1)" font-family="Liberation Sans, sans-serif" font-size="14.6" font-weight="bold" fill="#0d0d0d" stroke="#0d0d0d" stroke-width="0.35">SOA</text>
<line x1="612.9" y1="191.4" x2="637.6" y2="191.4" stroke="#336f8e" stroke-width="1.8" stroke-dasharray="1.0 1.2" stroke-dashoffset="0"/>
<text transform="translate(639.90,196.10) scale(0.77,1)" font-family="Liberation Sans, sans-serif" font-size="14.6" font-weight="bold" fill="#0d0d0d" stroke="#0d0d0d" stroke-width="0.35">SOS</text>
</svg>
</body></html>
